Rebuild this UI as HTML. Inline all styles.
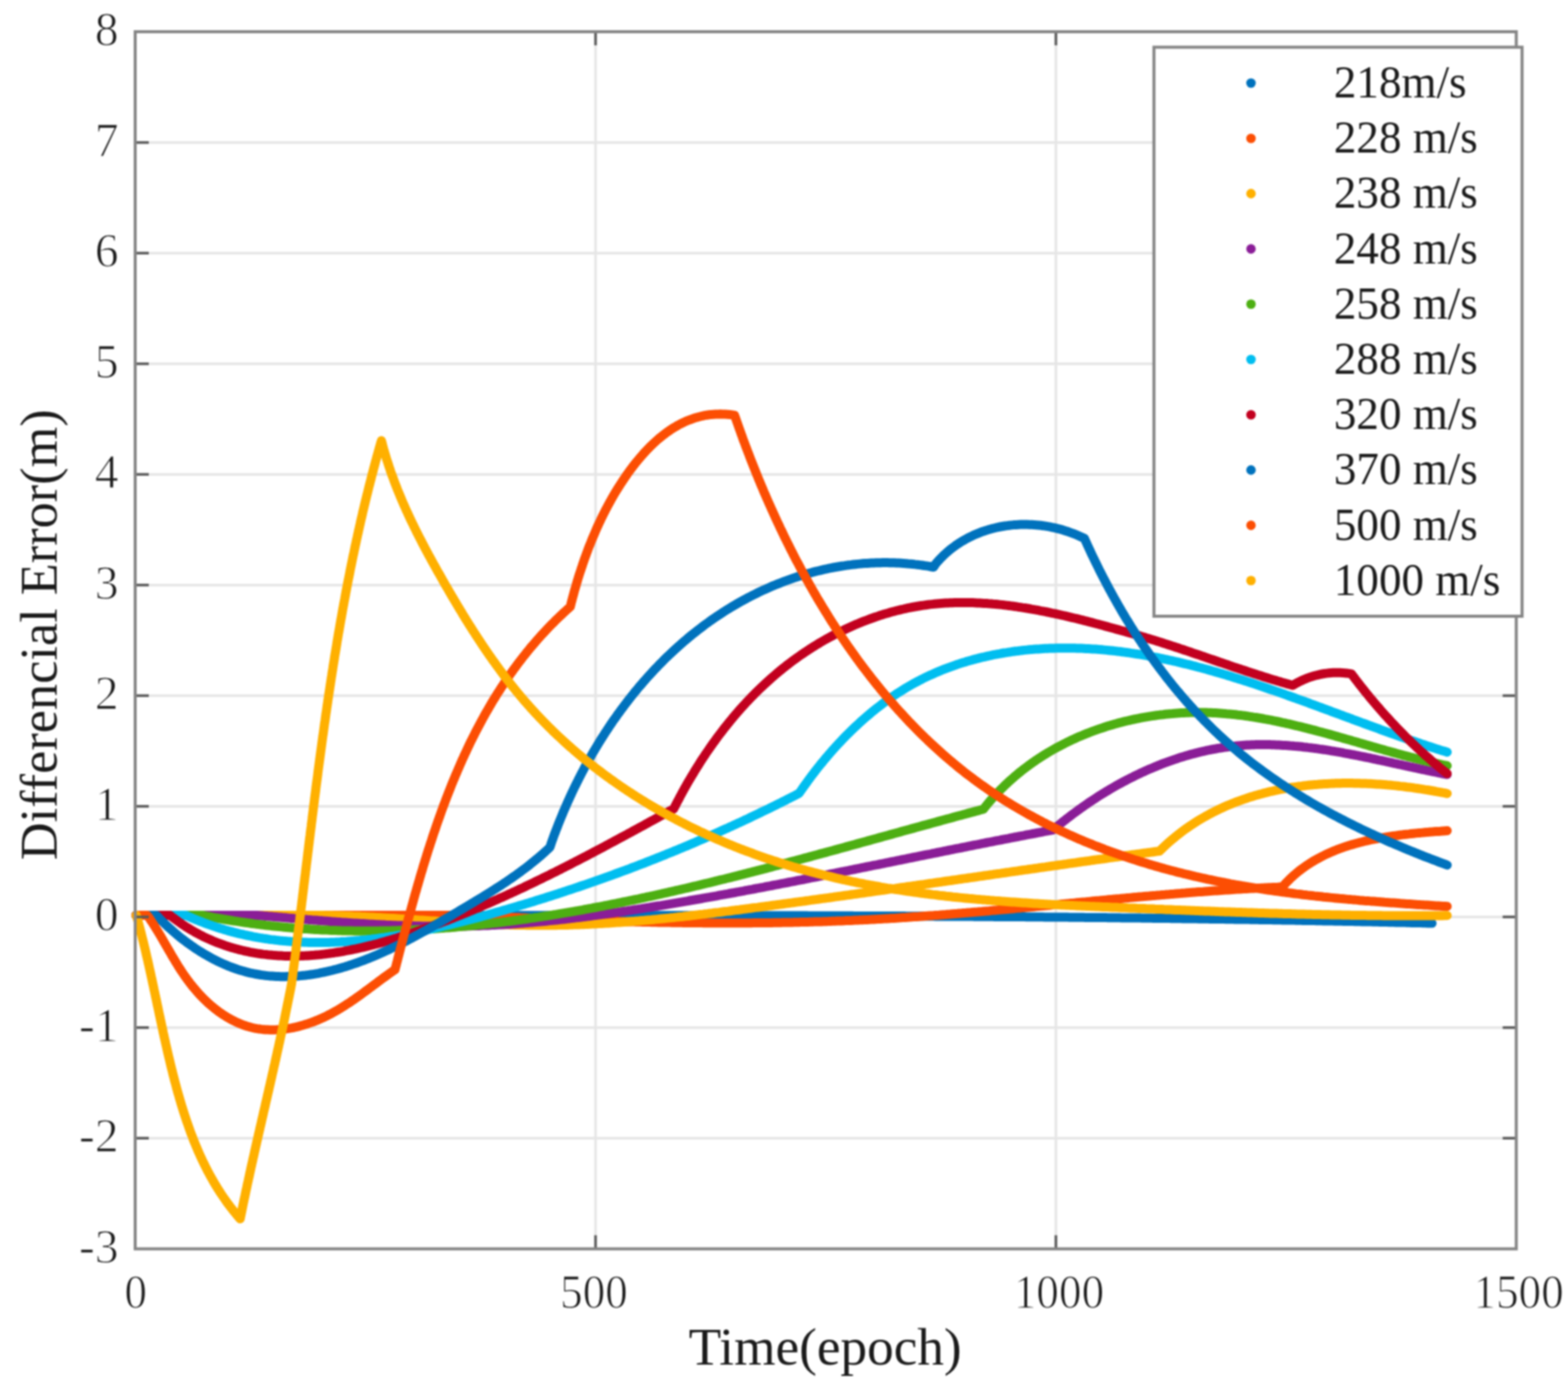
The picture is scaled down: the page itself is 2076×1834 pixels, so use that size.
<!DOCTYPE html>
<html><head><meta charset="utf-8"><title>Differencial Error</title>
<style>
html,body{margin:0;padding:0;background:#fff;}
body{width:2076px;height:1834px;overflow:hidden;}
svg{display:block;filter:blur(0.8px);}
text{font-family:"Liberation Serif","Times New Roman",serif;fill:#1a1a1a;}
.tk{stroke:#fff;stroke-width:1.2px;}
</style></head><body>
<svg xmlns="http://www.w3.org/2000/svg" width="2076" height="1834" viewBox="0 0 2076 1834">
<rect x="0" y="0" width="2076" height="1834" fill="#fff"/>
<g stroke="#e6e6e6" stroke-width="3.5" fill="none"><line x1="179" y1="1507.2" x2="2007.5" y2="1507.2"/><line x1="179" y1="1360.7" x2="2007.5" y2="1360.7"/><line x1="179" y1="1214.2" x2="2007.5" y2="1214.2"/><line x1="179" y1="1067.7" x2="2007.5" y2="1067.7"/><line x1="179" y1="921.2" x2="2007.5" y2="921.2"/><line x1="179" y1="774.7" x2="2007.5" y2="774.7"/><line x1="179" y1="628.2" x2="2007.5" y2="628.2"/><line x1="179" y1="481.7" x2="2007.5" y2="481.7"/><line x1="179" y1="335.2" x2="2007.5" y2="335.2"/><line x1="179" y1="188.7" x2="2007.5" y2="188.7"/><line x1="788.5" y1="42" x2="788.5" y2="1653.7"/><line x1="1398.0" y1="42" x2="1398.0" y2="1653.7"/></g>
<g fill="none" stroke-width="12.0" stroke-linecap="round" stroke-linejoin="round">
<path stroke="#0072BD" d="M180.0,1212.0L183.0,1212.0 186.0,1212.0 189.0,1212.0 192.0,1212.0 195.0,1212.0 198.0,1212.0 201.0,1212.0 204.0,1212.0 207.0,1212.1 210.0,1212.1 213.0,1212.1 216.0,1212.1 219.0,1212.1 222.0,1212.1 225.0,1212.1 228.0,1212.1 231.0,1212.1 234.0,1212.1 237.0,1212.1 240.0,1212.1 243.0,1212.1 246.0,1212.1 249.0,1212.1 252.0,1212.1 255.0,1212.2 258.0,1212.2 261.0,1212.2 264.0,1212.2 267.0,1212.2 270.0,1212.2 273.0,1212.2 276.0,1212.2 279.0,1212.2 282.0,1212.2 285.0,1212.2 288.0,1212.2 291.0,1212.2 294.0,1212.2 297.0,1212.2 300.0,1212.2 303.0,1212.2 306.0,1212.2 309.0,1212.2 312.0,1212.2 315.0,1212.2 318.0,1212.2 321.0,1212.2 324.0,1212.2 327.0,1212.2 330.0,1212.2 333.0,1212.3 336.0,1212.3 339.0,1212.3 342.0,1212.3 345.0,1212.3 348.0,1212.3 351.0,1212.3 354.0,1212.3 357.0,1212.3 360.0,1212.3 363.0,1212.3 366.0,1212.3 369.0,1212.3 372.0,1212.3 375.0,1212.3 378.0,1212.3 381.0,1212.3 384.0,1212.3 387.0,1212.3 390.0,1212.3 393.0,1212.3 396.0,1212.3 399.0,1212.3 402.0,1212.3 405.0,1212.3 408.0,1212.3 411.0,1212.3 414.0,1212.3 417.0,1212.3 420.0,1212.3 423.0,1212.3 426.0,1212.3 429.0,1212.3 432.0,1212.3 435.0,1212.3 438.0,1212.3 441.0,1212.3 444.0,1212.3 447.0,1212.3 450.0,1212.3 453.0,1212.3 456.0,1212.3 459.0,1212.3 462.0,1212.3 465.0,1212.3 468.0,1212.3 471.0,1212.3 474.0,1212.3 477.0,1212.3 480.0,1212.3 483.0,1212.3 486.0,1212.3 489.0,1212.3 492.0,1212.3 495.0,1212.3 498.0,1212.3 501.0,1212.3 504.0,1212.3 507.0,1212.3 510.0,1212.3 513.0,1212.3 516.0,1212.3 519.0,1212.3 522.0,1212.3 525.0,1212.3 528.0,1212.3 531.0,1212.3 534.0,1212.3 537.0,1212.3 540.0,1212.3 543.0,1212.3 546.0,1212.3 549.0,1212.3 552.0,1212.3 555.0,1212.3 558.0,1212.3 561.0,1212.3 564.0,1212.3 567.0,1212.3 570.0,1212.3 573.0,1212.3 576.0,1212.3 579.0,1212.3 582.0,1212.3 585.0,1212.3 588.0,1212.3 591.0,1212.3 594.0,1212.3 597.0,1212.3 600.0,1212.3 603.0,1212.3 606.0,1212.3 609.0,1212.3 612.0,1212.3 615.0,1212.3 618.0,1212.3 621.0,1212.3 624.0,1212.3 627.0,1212.3 630.0,1212.3 633.0,1212.3 636.0,1212.3 639.0,1212.3 642.0,1212.3 645.0,1212.3 648.0,1212.3 651.0,1212.3 654.0,1212.3 657.0,1212.3 660.0,1212.3 663.0,1212.3 666.0,1212.3 669.0,1212.3 672.0,1212.3 675.0,1212.3 678.0,1212.3 681.0,1212.3 684.0,1212.3 687.0,1212.3 690.0,1212.3 693.0,1212.3 696.0,1212.3 699.0,1212.3 702.0,1212.3 705.0,1212.3 708.0,1212.3 711.0,1212.3 714.0,1212.3 717.0,1212.3 720.0,1212.3 723.0,1212.3 726.0,1212.3 729.0,1212.3 732.0,1212.3 735.0,1212.3 738.0,1212.3 741.0,1212.3 744.0,1212.3 747.0,1212.3 750.0,1212.3 753.0,1212.3 756.0,1212.3 759.0,1212.3 762.0,1212.3 765.0,1212.3 768.0,1212.3 771.0,1212.3 774.0,1212.3 777.0,1212.3 780.0,1212.3 783.0,1212.3 786.0,1212.3 789.0,1212.3 792.0,1212.3 795.0,1212.3 798.0,1212.3 801.0,1212.3 804.0,1212.3 807.0,1212.3 810.0,1212.3 813.0,1212.3 816.0,1212.3 819.0,1212.3 822.0,1212.3 825.0,1212.3 828.0,1212.3 831.0,1212.3 834.0,1212.3 837.0,1212.3 840.0,1212.3 843.0,1212.3 846.0,1212.3 849.1,1212.3 852.1,1212.3 855.1,1212.3 858.1,1212.3 861.1,1212.3 864.1,1212.3 867.1,1212.3 870.1,1212.3 873.1,1212.3 876.1,1212.3 879.1,1212.3 882.1,1212.3 885.1,1212.3 888.1,1212.3 891.1,1212.3 894.1,1212.3 897.1,1212.3 900.1,1212.3 903.1,1212.3 906.1,1212.3 909.1,1212.3 912.1,1212.4 915.1,1212.4 918.1,1212.4 921.1,1212.4 924.1,1212.4 927.1,1212.4 930.1,1212.4 933.1,1212.4 936.1,1212.4 939.1,1212.4 942.1,1212.4 945.1,1212.4 948.1,1212.4 951.1,1212.4 954.1,1212.4 957.1,1212.4 960.1,1212.4 963.1,1212.4 966.1,1212.4 969.1,1212.4 972.1,1212.4 975.1,1212.4 978.1,1212.4 981.1,1212.4 984.1,1212.5 987.1,1212.5 990.1,1212.5 993.1,1212.5 996.1,1212.5 999.1,1212.5 1002.1,1212.5 1005.1,1212.5 1008.1,1212.5 1011.1,1212.5 1014.1,1212.5 1017.1,1212.5 1020.1,1212.5 1023.1,1212.5 1026.1,1212.5 1029.1,1212.5 1032.1,1212.6 1035.1,1212.6 1038.1,1212.6 1041.1,1212.6 1044.1,1212.6 1047.1,1212.6 1050.1,1212.6 1053.1,1212.6 1056.1,1212.6 1059.1,1212.6 1062.1,1212.6 1065.1,1212.6 1068.1,1212.6 1071.1,1212.7 1074.1,1212.7 1077.1,1212.7 1080.1,1212.7 1083.1,1212.7 1086.1,1212.7 1089.1,1212.7 1092.1,1212.7 1095.1,1212.7 1098.1,1212.7 1101.1,1212.7 1104.1,1212.8 1107.1,1212.8 1110.1,1212.8 1113.1,1212.8 1116.1,1212.8 1119.1,1212.8 1122.1,1212.8 1125.1,1212.8 1128.1,1212.8 1131.1,1212.9 1134.1,1212.9 1137.1,1212.9 1140.1,1212.9 1143.1,1212.9 1146.1,1212.9 1149.1,1212.9 1152.1,1212.9 1155.1,1212.9 1158.1,1213.0 1161.1,1213.0 1164.1,1213.0 1167.1,1213.0 1170.1,1213.0 1173.1,1213.0 1176.1,1213.0 1179.1,1213.1 1182.1,1213.1 1185.1,1213.1 1188.1,1213.1 1191.1,1213.1 1194.1,1213.1 1197.1,1213.1 1200.1,1213.2 1203.1,1213.2 1206.1,1213.2 1209.1,1213.2 1212.1,1213.2 1215.1,1213.2 1218.1,1213.2 1221.1,1213.3 1224.1,1213.3 1227.1,1213.3 1230.1,1213.3 1233.1,1213.3 1236.1,1213.3 1239.1,1213.4 1242.1,1213.4 1245.1,1213.4 1248.1,1213.4 1251.1,1213.4 1254.1,1213.4 1257.1,1213.5 1260.1,1213.5 1263.1,1213.5 1266.1,1213.5 1269.1,1213.5 1272.1,1213.6 1275.1,1213.6 1278.1,1213.6 1281.1,1213.6 1284.1,1213.6 1287.1,1213.6 1290.1,1213.7 1293.1,1213.7 1296.1,1213.7 1299.1,1213.7 1302.1,1213.7 1305.1,1213.8 1308.1,1213.8 1311.1,1213.8 1314.1,1213.8 1317.1,1213.9 1320.1,1213.9 1323.1,1213.9 1326.1,1213.9 1329.1,1213.9 1332.1,1214.0 1335.1,1214.0 1338.1,1214.0 1341.1,1214.0 1344.1,1214.1 1347.1,1214.1 1350.1,1214.1 1353.1,1214.1 1356.1,1214.1 1359.1,1214.2 1362.1,1214.2 1365.1,1214.2 1368.1,1214.2 1371.1,1214.3 1374.1,1214.3 1377.1,1214.3 1380.1,1214.3 1383.1,1214.4 1386.1,1214.4 1389.1,1214.4 1392.1,1214.4 1395.1,1214.5 1398.1,1214.5 1401.1,1214.5 1404.1,1214.6 1407.1,1214.6 1410.1,1214.6 1413.1,1214.6 1416.1,1214.7 1419.1,1214.7 1422.1,1214.7 1425.1,1214.8 1428.1,1214.8 1431.1,1214.8 1434.1,1214.8 1437.1,1214.9 1440.1,1214.9 1443.1,1214.9 1446.1,1215.0 1449.1,1215.0 1452.1,1215.0 1455.1,1215.1 1458.1,1215.1 1461.1,1215.1 1464.1,1215.1 1467.1,1215.2 1470.1,1215.2 1473.1,1215.2 1476.1,1215.3 1479.1,1215.3 1482.1,1215.3 1485.1,1215.4 1488.1,1215.4 1491.1,1215.4 1494.1,1215.5 1497.1,1215.5 1500.1,1215.5 1503.1,1215.6 1506.1,1215.6 1509.1,1215.6 1512.1,1215.7 1515.1,1215.7 1518.1,1215.8 1521.1,1215.8 1524.1,1215.8 1527.1,1215.9 1530.1,1215.9 1533.1,1215.9 1536.1,1216.0 1539.1,1216.0 1542.1,1216.1 1545.1,1216.1 1548.1,1216.1 1551.1,1216.2 1554.1,1216.2 1557.1,1216.2 1560.1,1216.3 1563.1,1216.3 1566.1,1216.4 1569.1,1216.4 1572.1,1216.4 1575.1,1216.5 1578.1,1216.5 1581.1,1216.6 1584.1,1216.6 1587.1,1216.7 1590.1,1216.7 1593.1,1216.7 1596.1,1216.8 1599.1,1216.8 1602.1,1216.9 1605.1,1216.9 1608.1,1216.9 1611.1,1217.0 1614.1,1217.0 1617.1,1217.1 1620.1,1217.1 1623.1,1217.2 1626.1,1217.2 1629.1,1217.3 1632.1,1217.3 1635.1,1217.4 1638.1,1217.4 1641.1,1217.4 1644.1,1217.5 1647.1,1217.5 1650.1,1217.6 1653.1,1217.6 1656.1,1217.7 1659.1,1217.7 1662.1,1217.8 1665.1,1217.8 1668.1,1217.9 1671.1,1217.9 1674.1,1218.0 1677.1,1218.0 1680.1,1218.1 1683.1,1218.1 1686.1,1218.2 1689.1,1218.2 1692.1,1218.3 1695.1,1218.3 1698.1,1218.4 1701.1,1218.4 1704.1,1218.5 1707.0,1218.5 1710.0,1218.6 1713.0,1218.6 1716.0,1218.7 1719.0,1218.8 1722.0,1218.8 1725.0,1218.9 1728.0,1218.9 1731.0,1219.0 1734.0,1219.0 1737.0,1219.1 1740.0,1219.1 1743.0,1219.2 1746.0,1219.3 1749.0,1219.3 1752.0,1219.4 1755.0,1219.4 1758.0,1219.5 1761.0,1219.5 1764.0,1219.6 1767.0,1219.7 1770.0,1219.7 1773.0,1219.8 1776.0,1219.8 1779.0,1219.9 1782.0,1220.0 1785.0,1220.0 1788.0,1220.1 1791.0,1220.1 1794.0,1220.2 1797.0,1220.3 1800.0,1220.3 1803.0,1220.4 1806.0,1220.5 1809.0,1220.5 1812.0,1220.6 1815.0,1220.6 1818.0,1220.7 1821.0,1220.8 1824.0,1220.8 1827.0,1220.9 1830.0,1221.0 1833.0,1221.0 1836.0,1221.1 1839.0,1221.2 1842.0,1221.2 1845.0,1221.3 1848.0,1221.4 1851.0,1221.4 1854.0,1221.5 1857.0,1221.6 1860.0,1221.6 1863.0,1221.7 1866.0,1221.8 1869.0,1221.9 1872.0,1221.9 1875.0,1222.0 1878.0,1222.1 1881.0,1222.1 1884.0,1222.2 1887.0,1222.3 1890.0,1222.4 1893.0,1222.4 1896.0,1222.5"/>
<path stroke="#FC4E03" d="M180.0,1212.0L620.0,1212.0L623.0,1212.1 626.0,1212.3 629.0,1212.4 632.0,1212.6 635.0,1212.7 638.0,1212.9 641.0,1213.0 644.0,1213.2 647.0,1213.3 649.9,1213.4 652.9,1213.6 655.9,1213.7 658.9,1213.9 661.9,1214.0 664.9,1214.2 667.9,1214.3 670.9,1214.4 673.9,1214.6 676.9,1214.7 679.9,1214.9 682.9,1215.0 685.9,1215.1 688.9,1215.3 691.9,1215.4 694.9,1215.5 697.9,1215.7 700.9,1215.8 703.9,1215.9 706.9,1216.1 709.9,1216.2 712.9,1216.3 715.9,1216.4 718.9,1216.6 721.9,1216.7 724.9,1216.8 727.9,1216.9 730.8,1217.0 733.8,1217.2 736.8,1217.3 739.8,1217.4 742.8,1217.5 745.8,1217.6 748.8,1217.8 751.8,1217.9 754.8,1218.0 757.8,1218.1 760.8,1218.2 763.8,1218.3 766.8,1218.4 769.8,1218.5 772.8,1218.6 775.8,1218.7 778.8,1218.8 781.8,1218.9 784.8,1219.0 787.8,1219.1 790.8,1219.2 793.8,1219.3 796.8,1219.4 799.8,1219.5 802.8,1219.6 805.8,1219.7 808.8,1219.8 811.8,1219.9 814.8,1220.0 817.8,1220.1 820.8,1220.2 823.8,1220.2 826.8,1220.3 829.8,1220.4 832.8,1220.5 835.8,1220.6 838.8,1220.6 841.8,1220.7 844.8,1220.8 847.8,1220.8 850.8,1220.9 853.8,1221.0 856.8,1221.0 859.8,1221.1 862.8,1221.2 865.8,1221.2 868.8,1221.3 871.8,1221.4 874.8,1221.4 877.8,1221.5 880.8,1221.5 883.8,1221.6 886.8,1221.6 889.8,1221.7 892.8,1221.7 895.8,1221.8 898.8,1221.8 901.8,1221.8 904.8,1221.9 907.8,1221.9 910.8,1222.0 913.8,1222.0 916.8,1222.0 919.8,1222.1 922.8,1222.1 925.8,1222.1 928.8,1222.1 931.8,1222.2 934.8,1222.2 937.8,1222.2 940.8,1222.2 943.8,1222.2 946.8,1222.2 949.8,1222.2 952.8,1222.3 955.8,1222.3 958.8,1222.3 961.8,1222.3 964.8,1222.3 967.8,1222.3 970.8,1222.3 973.7,1222.3 976.7,1222.2 979.7,1222.2 982.7,1222.2 985.7,1222.2 988.7,1222.2 991.7,1222.2 994.7,1222.2 997.7,1222.1 1000.7,1222.1 1003.7,1222.1 1006.7,1222.1 1009.7,1222.0 1012.7,1222.0 1015.7,1221.9 1018.7,1221.9 1021.7,1221.9 1024.7,1221.8 1027.7,1221.8 1030.7,1221.7 1033.7,1221.7 1036.7,1221.6 1039.7,1221.6 1042.7,1221.5 1045.7,1221.5 1048.7,1221.4 1051.7,1221.3 1054.7,1221.3 1057.7,1221.2 1060.7,1221.1 1063.7,1221.0 1066.7,1221.0 1069.7,1220.9 1072.7,1220.8 1075.7,1220.7 1078.7,1220.6 1081.7,1220.5 1084.7,1220.4 1087.7,1220.4 1090.7,1220.3 1093.7,1220.2 1096.7,1220.1 1099.7,1219.9 1102.6,1219.8 1105.6,1219.7 1108.6,1219.6 1111.6,1219.5 1114.6,1219.4 1117.6,1219.3 1120.6,1219.1 1123.6,1219.0 1126.6,1218.9 1129.6,1218.7 1132.6,1218.6 1135.6,1218.5 1138.6,1218.3 1141.6,1218.2 1144.6,1218.0 1147.6,1217.9 1150.6,1217.7 1153.6,1217.6 1156.6,1217.4 1159.6,1217.2 1162.5,1217.1 1165.5,1216.9 1168.5,1216.7 1171.5,1216.6 1174.5,1216.4 1177.5,1216.2 1180.5,1216.0 1183.5,1215.9 1186.5,1215.7 1189.5,1215.5 1192.5,1215.3 1195.5,1215.1 1198.5,1214.9 1201.5,1214.7 1204.5,1214.5 1207.4,1214.3 1210.4,1214.1 1213.4,1213.9 1216.4,1213.7 1219.4,1213.4 1222.4,1213.2 1225.4,1213.0 1228.4,1212.8 1231.4,1212.6 1234.4,1212.4 1237.4,1212.1 1240.4,1211.9 1243.4,1211.7 1246.3,1211.4 1249.3,1211.2 1252.3,1211.0 1255.3,1210.7 1258.3,1210.5 1261.3,1210.2 1264.3,1210.0 1267.3,1209.8 1270.3,1209.5 1273.3,1209.3 1276.3,1209.0 1279.2,1208.8 1282.2,1208.5 1285.2,1208.3 1288.2,1208.0 1291.2,1207.7 1294.2,1207.5 1297.2,1207.2 1300.2,1207.0 1303.2,1206.7 1306.2,1206.4 1309.2,1206.2 1312.1,1205.9 1315.1,1205.6 1318.1,1205.4 1321.1,1205.1 1324.1,1204.8 1327.1,1204.6 1330.1,1204.3 1333.1,1204.0 1336.1,1203.7 1339.1,1203.5 1342.0,1203.2 1345.0,1202.9 1348.0,1202.6 1351.0,1202.4 1354.0,1202.1 1357.0,1201.8 1360.0,1201.5 1363.0,1201.3 1366.0,1201.0 1368.9,1200.7 1371.9,1200.4 1374.9,1200.1 1377.9,1199.8 1380.9,1199.6 1383.9,1199.3 1386.9,1199.0 1389.9,1198.7 1392.9,1198.4 1395.8,1198.1 1398.8,1197.9 1401.8,1197.6 1404.8,1197.3 1407.8,1197.0 1410.8,1196.7 1413.8,1196.4 1416.8,1196.1 1419.8,1195.9 1422.7,1195.6 1425.7,1195.3 1428.7,1195.0 1431.7,1194.7 1434.7,1194.4 1437.7,1194.2 1440.7,1193.9 1443.7,1193.6 1446.7,1193.3 1449.6,1193.0 1452.6,1192.7 1455.6,1192.5 1458.6,1192.2 1461.6,1191.9 1464.6,1191.6 1467.6,1191.3 1470.6,1191.1 1473.6,1190.8 1476.5,1190.5 1479.5,1190.2 1482.5,1190.0 1485.5,1189.7 1488.5,1189.4 1491.5,1189.1 1494.5,1188.9 1497.5,1188.6 1500.5,1188.3 1503.4,1188.1 1506.4,1187.8 1509.4,1187.5 1512.4,1187.3 1515.4,1187.0 1518.4,1186.7 1521.4,1186.5 1524.4,1186.2 1527.4,1185.9 1530.3,1185.7 1533.3,1185.4 1536.3,1185.2 1539.3,1184.9 1542.3,1184.7 1545.3,1184.4 1548.3,1184.2 1551.3,1183.9 1554.3,1183.7 1557.2,1183.4 1560.2,1183.2 1563.2,1183.0 1566.2,1182.7 1569.2,1182.5 1572.2,1182.2 1575.2,1182.0 1578.2,1181.8 1581.2,1181.6 1584.1,1181.3 1587.1,1181.1 1590.1,1180.9 1593.1,1180.7 1596.1,1180.4 1599.1,1180.2 1602.1,1180.0 1605.1,1179.8 1608.1,1179.6 1611.1,1179.4 1614.0,1179.2 1617.0,1179.0 1620.0,1178.8 1623.0,1178.6 1626.0,1178.4 1629.0,1178.2 1632.0,1178.0 1635.0,1177.8 1638.0,1177.6 1641.0,1177.4 1644.0,1177.2 1646.9,1177.1 1649.9,1176.9 1652.9,1176.7 1655.9,1176.6 1658.9,1176.4 1661.9,1176.2 1664.9,1176.1 1667.9,1175.9 1670.9,1175.7 1673.9,1175.6 1676.9,1175.4 1679.8,1175.3 1682.8,1175.2 1685.8,1175.0 1688.8,1174.9 1691.8,1174.8 1694.8,1174.6 1697.8,1174.5L1699.9,1172.2 1702.0,1169.9 1704.1,1167.7 1706.3,1165.5 1708.4,1163.3 1710.7,1161.3 1712.9,1159.2 1715.2,1157.3 1717.5,1155.3 1719.8,1153.4 1722.2,1151.6 1724.6,1149.8 1727.0,1148.1 1729.4,1146.4 1731.9,1144.7 1734.4,1143.1 1736.9,1141.5 1739.4,1140.0 1742.0,1138.5 1744.6,1137.1 1747.2,1135.7 1749.8,1134.3 1752.4,1133.0 1755.1,1131.7 1757.7,1130.4 1760.4,1129.2 1763.2,1128.0 1765.9,1126.9 1768.6,1125.8 1771.4,1124.7 1774.2,1123.7 1777.0,1122.7 1779.8,1121.7 1782.6,1120.7 1785.5,1119.8 1788.3,1118.9 1791.2,1118.1 1794.1,1117.3 1797.0,1116.5 1799.9,1115.7 1802.8,1115.0 1805.7,1114.2 1808.6,1113.5 1811.6,1112.9 1814.5,1112.2 1817.5,1111.6 1820.5,1111.0 1823.4,1110.5 1826.4,1109.9 1829.4,1109.4 1832.4,1108.9 1835.4,1108.4 1838.4,1107.9 1841.4,1107.4 1844.4,1107.0 1847.4,1106.6 1850.4,1106.2 1853.4,1105.8 1856.4,1105.4 1859.4,1105.0 1862.4,1104.7 1865.5,1104.4 1868.5,1104.0 1871.5,1103.7 1874.5,1103.4 1877.5,1103.1 1880.5,1102.9 1883.5,1102.6 1886.5,1102.3 1889.4,1102.1 1892.4,1101.8 1895.4,1101.6 1898.4,1101.3 1901.3,1101.1 1904.3,1100.9 1907.2,1100.7 1910.2,1100.4 1913.1,1100.2 1916.0,1100.0"/>
<path stroke="#FFB000" d="M180.0,1212.0L400.0,1212.0L403.0,1212.0 406.0,1212.0 409.0,1212.0 412.0,1212.0 415.0,1212.0 418.0,1212.0 421.0,1212.0 424.0,1212.1 427.1,1212.1 430.1,1212.2 433.1,1212.2 436.1,1212.3 439.1,1212.3 442.1,1212.4 445.1,1212.5 448.1,1212.6 451.1,1212.7 454.1,1212.8 457.1,1212.9 460.1,1213.0 463.1,1213.1 466.1,1213.2 469.1,1213.4 472.1,1213.5 475.1,1213.6 478.1,1213.8 481.1,1213.9 484.2,1214.1 487.2,1214.2 490.2,1214.4 493.2,1214.5 496.2,1214.7 499.2,1214.9 502.2,1215.0 505.2,1215.2 508.2,1215.4 511.2,1215.6 514.2,1215.7 517.2,1215.9 520.2,1216.1 523.2,1216.3 526.2,1216.5 529.2,1216.7 532.2,1216.9 535.2,1217.0 538.2,1217.2 541.2,1217.4 544.2,1217.6 547.2,1217.8 550.2,1218.0 553.3,1218.2 556.3,1218.4 559.3,1218.6 562.3,1218.8 565.3,1219.0 568.3,1219.2 571.3,1219.4 574.3,1219.6 577.3,1219.8 580.3,1220.0 583.3,1220.1 586.3,1220.3 589.3,1220.5 592.3,1220.7 595.3,1220.9 598.3,1221.1 601.3,1221.2 604.3,1221.4 607.3,1221.6 610.3,1221.8 613.3,1221.9 616.3,1222.1 619.3,1222.3 622.3,1222.4 625.3,1222.6 628.3,1222.7 631.3,1222.9 634.3,1223.0 637.3,1223.2 640.3,1223.3 643.3,1223.5 646.3,1223.6 649.3,1223.7 652.3,1223.9 655.3,1224.0 658.3,1224.1 661.3,1224.2 664.3,1224.3 667.3,1224.4 670.3,1224.5 673.3,1224.6 676.3,1224.7 679.3,1224.8 682.3,1224.9 685.3,1224.9 688.3,1225.0 691.3,1225.1 694.3,1225.1 697.3,1225.2 700.3,1225.2 703.3,1225.2 706.3,1225.3 709.3,1225.3 712.3,1225.3 715.3,1225.3 718.3,1225.3 721.3,1225.3 724.3,1225.3 727.3,1225.3 730.3,1225.3 733.3,1225.2 736.3,1225.2 739.3,1225.1 742.3,1225.1 745.3,1225.0 748.3,1225.0 751.3,1224.9 754.3,1224.8 757.3,1224.7 760.3,1224.6 763.3,1224.5 766.3,1224.4 769.3,1224.3 772.3,1224.2 775.3,1224.0 778.3,1223.9 781.3,1223.8 784.3,1223.6 787.3,1223.5 790.3,1223.3 793.3,1223.1 796.3,1223.0 799.3,1222.8 802.2,1222.6 805.2,1222.4 808.2,1222.2 811.2,1222.1 814.2,1221.8 817.2,1221.6 820.2,1221.4 823.2,1221.2 826.2,1221.0 829.2,1220.8 832.2,1220.5 835.2,1220.3 838.2,1220.1 841.2,1219.8 844.2,1219.6 847.2,1219.3 850.1,1219.0 853.1,1218.8 856.1,1218.5 859.1,1218.2 862.1,1218.0 865.1,1217.7 868.1,1217.4 871.1,1217.1 874.1,1216.8 877.1,1216.5 880.1,1216.2 883.1,1215.9 886.0,1215.6 889.0,1215.3 892.0,1215.0 895.0,1214.6 898.0,1214.3 901.0,1214.0 904.0,1213.7 907.0,1213.3 910.0,1213.0 913.0,1212.7 916.0,1212.3 918.9,1212.0 921.9,1211.6 924.9,1211.3 927.9,1210.9 930.9,1210.6 933.9,1210.2 936.9,1209.9 939.9,1209.5 942.9,1209.2 945.8,1208.8 948.8,1208.4 951.8,1208.1 954.8,1207.7 957.8,1207.3 960.8,1206.9 963.8,1206.6 966.8,1206.2 969.7,1205.8 972.7,1205.4 975.7,1205.0 978.7,1204.7 981.7,1204.3 984.7,1203.9 987.7,1203.5 990.6,1203.1 993.6,1202.7 996.6,1202.3 999.6,1201.9 1002.6,1201.6 1005.6,1201.2 1008.6,1200.8 1011.5,1200.4 1014.5,1200.0 1017.5,1199.6 1020.5,1199.2 1023.5,1198.8 1026.5,1198.4 1029.5,1198.0 1032.4,1197.6 1035.4,1197.2 1038.4,1196.8 1041.4,1196.4 1044.4,1196.0 1047.4,1195.6 1050.3,1195.2 1053.3,1194.8 1056.3,1194.4 1059.3,1194.0 1062.3,1193.6 1065.3,1193.2 1068.2,1192.8 1071.2,1192.4 1074.2,1191.9 1077.2,1191.5 1080.2,1191.1 1083.2,1190.7 1086.1,1190.3 1089.1,1189.9 1092.1,1189.5 1095.1,1189.1 1098.1,1188.7 1101.0,1188.3 1104.0,1187.8 1107.0,1187.4 1110.0,1187.0 1113.0,1186.6 1115.9,1186.2 1118.9,1185.8 1121.9,1185.4 1124.9,1185.0 1127.9,1184.5 1130.8,1184.1 1133.8,1183.7 1136.8,1183.3 1139.8,1182.9 1142.8,1182.5 1145.7,1182.0 1148.7,1181.6 1151.7,1181.2 1154.7,1180.8 1157.7,1180.4 1160.6,1179.9 1163.6,1179.5 1166.6,1179.1 1169.6,1178.7 1172.6,1178.3 1175.5,1177.8 1178.5,1177.4 1181.5,1177.0 1184.5,1176.6 1187.5,1176.1 1190.4,1175.7 1193.4,1175.3 1196.4,1174.9 1199.4,1174.5 1202.3,1174.0 1205.3,1173.6 1208.3,1173.2 1211.3,1172.8 1214.2,1172.3 1217.2,1171.9 1220.2,1171.5 1223.2,1171.1 1226.2,1170.6 1229.1,1170.2 1232.1,1169.8 1235.1,1169.4 1238.1,1168.9 1241.0,1168.5 1244.0,1168.1 1247.0,1167.7 1250.0,1167.2 1252.9,1166.8 1255.9,1166.4 1258.9,1166.0 1261.9,1165.5 1264.8,1165.1 1267.8,1164.7 1270.8,1164.2 1273.8,1163.8 1276.7,1163.4 1279.7,1163.0 1282.7,1162.5 1285.7,1162.1 1288.6,1161.7 1291.6,1161.3 1294.6,1160.8 1297.6,1160.4 1300.5,1160.0 1303.5,1159.5 1306.5,1159.1 1309.5,1158.7 1312.4,1158.3 1315.4,1157.8 1318.4,1157.4 1321.3,1157.0 1324.3,1156.6 1327.3,1156.1 1330.3,1155.7 1333.2,1155.3 1336.2,1154.9 1339.2,1154.4 1342.2,1154.0 1345.1,1153.6 1348.1,1153.2 1351.1,1152.7 1354.0,1152.3 1357.0,1151.9 1360.0,1151.5 1363.0,1151.0 1365.9,1150.6 1368.9,1150.2 1371.9,1149.8 1374.9,1149.3 1377.8,1148.9 1380.8,1148.5 1383.8,1148.1 1386.7,1147.6 1389.7,1147.2 1392.7,1146.8 1395.6,1146.4 1398.6,1146.0 1401.6,1145.5 1404.6,1145.1 1407.5,1144.7 1410.5,1144.3 1413.5,1143.8 1416.4,1143.4 1419.4,1143.0 1422.4,1142.6 1425.4,1142.2 1428.3,1141.7 1431.3,1141.3 1434.3,1140.9 1437.2,1140.5 1440.2,1140.1 1443.2,1139.7 1446.1,1139.2 1449.1,1138.8 1452.1,1138.4 1455.1,1138.0 1458.0,1137.6 1461.0,1137.2 1464.0,1136.8 1466.9,1136.3 1469.9,1135.9 1472.9,1135.5 1475.8,1135.1 1478.8,1134.7 1481.8,1134.3 1484.7,1133.9 1487.7,1133.5 1490.7,1133.0 1493.6,1132.6 1496.6,1132.2 1499.6,1131.8 1502.6,1131.4 1505.5,1131.0 1508.5,1130.6 1511.5,1130.2 1514.4,1129.8 1517.4,1129.4 1520.4,1129.0 1523.3,1128.6 1526.3,1128.2 1529.3,1127.8 1532.2,1127.4 1535.2,1127.0L1537.4,1124.8 1539.7,1122.6 1541.9,1120.5 1544.2,1118.4 1546.5,1116.3 1548.8,1114.3 1551.2,1112.2 1553.5,1110.3 1555.9,1108.3 1558.3,1106.4 1560.7,1104.5 1563.1,1102.6 1565.5,1100.8 1567.9,1099.0 1570.4,1097.2 1572.9,1095.5 1575.4,1093.8 1577.9,1092.1 1580.4,1090.5 1582.9,1088.8 1585.5,1087.2 1588.0,1085.7 1590.6,1084.1 1593.2,1082.6 1595.8,1081.1 1598.4,1079.7 1601.0,1078.3 1603.6,1076.9 1606.3,1075.5 1609.0,1074.1 1611.6,1072.8 1614.3,1071.5 1617.0,1070.3 1619.7,1069.0 1622.4,1067.8 1625.2,1066.6 1627.9,1065.5 1630.7,1064.4 1633.4,1063.3 1636.2,1062.2 1639.0,1061.1 1641.8,1060.1 1644.6,1059.1 1647.4,1058.1 1650.2,1057.2 1653.1,1056.2 1655.9,1055.3 1658.8,1054.4 1661.6,1053.6 1664.5,1052.8 1667.4,1051.9 1670.2,1051.2 1673.1,1050.4 1676.0,1049.7 1678.9,1048.9 1681.9,1048.2 1684.8,1047.6 1687.7,1046.9 1690.6,1046.3 1693.6,1045.7 1696.5,1045.1 1699.5,1044.6 1702.4,1044.0 1705.4,1043.5 1708.4,1043.0 1711.4,1042.5 1714.3,1042.1 1717.3,1041.7 1720.3,1041.2 1723.3,1040.9 1726.3,1040.5 1729.3,1040.1 1732.3,1039.8 1735.3,1039.5 1738.4,1039.2 1741.4,1038.9 1744.4,1038.7 1747.4,1038.4 1750.5,1038.2 1753.5,1038.0 1756.5,1037.9 1759.6,1037.7 1762.6,1037.6 1765.6,1037.4 1768.7,1037.3 1771.7,1037.3 1774.8,1037.2 1777.8,1037.1 1780.9,1037.1 1783.9,1037.1 1787.0,1037.1 1790.0,1037.1 1793.1,1037.2 1796.1,1037.2 1799.2,1037.3 1802.2,1037.4 1805.3,1037.5 1808.3,1037.6 1811.4,1037.7 1814.4,1037.8 1817.5,1038.0 1820.5,1038.2 1823.5,1038.4 1826.6,1038.6 1829.6,1038.8 1832.7,1039.0 1835.7,1039.3 1838.7,1039.6 1841.8,1039.8 1844.8,1040.1 1847.8,1040.4 1850.8,1040.7 1853.8,1041.1 1856.8,1041.4 1859.9,1041.8 1862.9,1042.2 1865.9,1042.5 1868.9,1042.9 1871.8,1043.3 1874.8,1043.8 1877.8,1044.2 1880.8,1044.6 1883.8,1045.1 1886.7,1045.6 1889.7,1046.0 1892.6,1046.5 1895.6,1047.0 1898.5,1047.5 1901.4,1048.1 1904.4,1048.6 1907.3,1049.1 1910.2,1049.7 1913.1,1050.2 1916.0,1050.8"/>
<path stroke="#8A1D97" d="M180.0,1212.0L340.0,1212.0L343.0,1212.2 346.0,1212.5 349.0,1212.8 351.9,1213.0 354.9,1213.3 357.9,1213.5 360.9,1213.8 363.9,1214.1 366.9,1214.3 369.9,1214.6 372.9,1214.8 375.9,1215.1 378.9,1215.3 381.9,1215.6 384.8,1215.9 387.8,1216.1 390.8,1216.4 393.8,1216.6 396.8,1216.9 399.8,1217.1 402.8,1217.4 405.8,1217.6 408.8,1217.9 411.8,1218.1 414.8,1218.4 417.8,1218.6 420.8,1218.8 423.8,1219.1 426.8,1219.3 429.8,1219.6 432.8,1219.8 435.8,1220.0 438.8,1220.3 441.8,1220.5 444.8,1220.7 447.8,1220.9 450.8,1221.1 453.8,1221.4 456.8,1221.6 459.8,1221.8 462.8,1222.0 465.8,1222.2 468.8,1222.4 471.8,1222.6 474.8,1222.8 477.8,1223.0 480.8,1223.1 483.8,1223.3 486.9,1223.5 489.9,1223.7 492.9,1223.8 495.9,1224.0 498.9,1224.2 501.9,1224.3 504.9,1224.5 507.9,1224.6 510.9,1224.8 513.9,1224.9 516.9,1225.0 519.9,1225.2 522.9,1225.3 525.9,1225.4 528.9,1225.5 531.9,1225.6 534.9,1225.7 537.9,1225.8 540.9,1225.9 543.9,1226.0 546.9,1226.1 549.9,1226.2 552.9,1226.3 555.9,1226.3 558.9,1226.4 561.9,1226.4 564.9,1226.5 567.9,1226.5 570.9,1226.6 573.9,1226.6 576.9,1226.6 579.9,1226.6 582.9,1226.7 585.9,1226.7 588.9,1226.7 591.9,1226.7 594.9,1226.6 597.9,1226.6 600.9,1226.6 603.9,1226.6 606.9,1226.5 609.9,1226.5 612.9,1226.4 615.9,1226.4 618.9,1226.3 621.9,1226.2 624.9,1226.1 627.9,1226.1 630.9,1226.0 633.9,1225.9 636.9,1225.7 639.9,1225.6 642.8,1225.5 645.8,1225.4 648.8,1225.2 651.8,1225.1 654.8,1224.9 657.8,1224.8 660.8,1224.6 663.8,1224.4 666.8,1224.3 669.7,1224.1 672.7,1223.9 675.7,1223.7 678.7,1223.5 681.7,1223.3 684.7,1223.1 687.7,1222.8 690.6,1222.6 693.6,1222.4 696.6,1222.1 699.6,1221.9 702.6,1221.6 705.6,1221.4 708.5,1221.1 711.5,1220.8 714.5,1220.6 717.5,1220.3 720.5,1220.0 723.4,1219.7 726.4,1219.4 729.4,1219.1 732.4,1218.8 735.4,1218.5 738.3,1218.2 741.3,1217.8 744.3,1217.5 747.3,1217.2 750.2,1216.8 753.2,1216.5 756.2,1216.1 759.2,1215.8 762.1,1215.4 765.1,1215.1 768.1,1214.7 771.1,1214.3 774.0,1214.0 777.0,1213.6 780.0,1213.2 783.0,1212.8 785.9,1212.4 788.9,1212.0 791.9,1211.6 794.8,1211.2 797.8,1210.8 800.8,1210.4 803.8,1210.0 806.7,1209.6 809.7,1209.1 812.7,1208.7 815.6,1208.3 818.6,1207.9 821.6,1207.4 824.5,1207.0 827.5,1206.5 830.5,1206.1 833.4,1205.6 836.4,1205.2 839.4,1204.7 842.3,1204.3 845.3,1203.8 848.3,1203.4 851.2,1202.9 854.2,1202.4 857.2,1201.9 860.1,1201.5 863.1,1201.0 866.0,1200.5 869.0,1200.0 872.0,1199.5 874.9,1199.1 877.9,1198.6 880.9,1198.1 883.8,1197.6 886.8,1197.1 889.7,1196.6 892.7,1196.1 895.7,1195.6 898.6,1195.1 901.6,1194.6 904.5,1194.1 907.5,1193.6 910.5,1193.1 913.4,1192.5 916.4,1192.0 919.3,1191.5 922.3,1191.0 925.3,1190.5 928.2,1190.0 931.2,1189.4 934.1,1188.9 937.1,1188.4 940.0,1187.9 943.0,1187.3 946.0,1186.8 948.9,1186.3 951.9,1185.7 954.8,1185.2 957.8,1184.7 960.7,1184.1 963.7,1183.6 966.6,1183.0 969.6,1182.5 972.6,1182.0 975.5,1181.4 978.5,1180.9 981.4,1180.3 984.4,1179.8 987.3,1179.2 990.3,1178.7 993.2,1178.1 996.2,1177.6 999.1,1177.0 1002.1,1176.4 1005.0,1175.9 1008.0,1175.3 1010.9,1174.8 1013.9,1174.2 1016.8,1173.6 1019.8,1173.1 1022.7,1172.5 1025.7,1171.9 1028.6,1171.4 1031.6,1170.8 1034.6,1170.2 1037.5,1169.7 1040.5,1169.1 1043.4,1168.5 1046.4,1167.9 1049.3,1167.4 1052.3,1166.8 1055.2,1166.2 1058.1,1165.6 1061.1,1165.1 1064.0,1164.5 1067.0,1163.9 1069.9,1163.3 1072.9,1162.7 1075.8,1162.2 1078.8,1161.6 1081.7,1161.0 1084.7,1160.4 1087.6,1159.8 1090.6,1159.2 1093.5,1158.7 1096.5,1158.1 1099.4,1157.5 1102.4,1156.9 1105.3,1156.3 1108.3,1155.7 1111.2,1155.1 1114.2,1154.5 1117.1,1154.0 1120.1,1153.4 1123.0,1152.8 1126.0,1152.2 1128.9,1151.6 1131.8,1151.0 1134.8,1150.4 1137.7,1149.8 1140.7,1149.2 1143.6,1148.6 1146.6,1148.0 1149.5,1147.4 1152.5,1146.8 1155.4,1146.2 1158.4,1145.6 1161.3,1145.1 1164.3,1144.5 1167.2,1143.9 1170.1,1143.3 1173.1,1142.7 1176.0,1142.1 1179.0,1141.5 1181.9,1140.9 1184.9,1140.3 1187.8,1139.7 1190.8,1139.1 1193.7,1138.5 1196.7,1137.9 1199.6,1137.3 1202.5,1136.7 1205.5,1136.1 1208.4,1135.5 1211.4,1134.9 1214.3,1134.3 1217.3,1133.7 1220.2,1133.1 1223.2,1132.5 1226.1,1131.9 1229.0,1131.3 1232.0,1130.8 1234.9,1130.2 1237.9,1129.6 1240.8,1129.0 1243.8,1128.4 1246.7,1127.8 1249.7,1127.2 1252.6,1126.6 1255.6,1126.0 1258.5,1125.4 1261.4,1124.8 1264.4,1124.2 1267.3,1123.6 1270.3,1123.1 1273.2,1122.5 1276.2,1121.9 1279.1,1121.3 1282.1,1120.7 1285.0,1120.1 1287.9,1119.5 1290.9,1118.9 1293.8,1118.4 1296.8,1117.8 1299.7,1117.2 1302.7,1116.6 1305.6,1116.0 1308.6,1115.4 1311.5,1114.9 1314.5,1114.3 1317.4,1113.7 1320.3,1113.1 1323.3,1112.6 1326.2,1112.0 1329.2,1111.4 1332.1,1110.8 1335.1,1110.3 1338.0,1109.7 1341.0,1109.1 1343.9,1108.5 1346.9,1108.0 1349.8,1107.4 1352.7,1106.8 1355.7,1106.3 1358.6,1105.7 1361.6,1105.1 1364.5,1104.6 1367.5,1104.0 1370.4,1103.5 1373.4,1102.9 1376.3,1102.3 1379.3,1101.8 1382.2,1101.2 1385.2,1100.7 1388.1,1100.1 1391.1,1099.6 1394.0,1099.0L1396.3,1097.1 1398.6,1095.1 1401.0,1093.2 1403.3,1091.3 1405.7,1089.4 1408.0,1087.5 1410.4,1085.7 1412.8,1083.8 1415.2,1082.0 1417.6,1080.1 1420.0,1078.3 1422.5,1076.5 1424.9,1074.7 1427.4,1072.9 1429.8,1071.1 1432.3,1069.4 1434.8,1067.6 1437.3,1065.9 1439.8,1064.2 1442.3,1062.4 1444.8,1060.8 1447.3,1059.1 1449.9,1057.4 1452.4,1055.8 1455.0,1054.1 1457.5,1052.5 1460.1,1050.9 1462.7,1049.3 1465.3,1047.7 1467.9,1046.2 1470.5,1044.6 1473.1,1043.1 1475.7,1041.6 1478.4,1040.1 1481.0,1038.6 1483.7,1037.2 1486.3,1035.7 1489.0,1034.3 1491.7,1032.9 1494.4,1031.5 1497.1,1030.1 1499.8,1028.8 1502.5,1027.4 1505.2,1026.1 1507.9,1024.8 1510.6,1023.5 1513.4,1022.3 1516.1,1021.0 1518.9,1019.8 1521.6,1018.6 1524.4,1017.4 1527.2,1016.2 1529.9,1015.1 1532.7,1013.9 1535.5,1012.8 1538.3,1011.7 1541.1,1010.6 1543.9,1009.6 1546.7,1008.6 1549.5,1007.6 1552.4,1006.6 1555.2,1005.6 1558.0,1004.7 1560.9,1003.7 1563.7,1002.8 1566.6,1001.9 1569.4,1001.1 1572.3,1000.2 1575.2,999.4 1578.0,998.6 1580.9,997.9 1583.8,997.1 1586.7,996.4 1589.6,995.7 1592.5,995.0 1595.4,994.4 1598.3,993.7 1601.2,993.1 1604.1,992.5 1607.0,992.0 1609.9,991.5 1612.9,990.9 1615.8,990.5 1618.7,990.0 1621.7,989.6 1624.6,989.2 1627.6,988.8 1630.5,988.4 1633.5,988.1 1636.4,987.8 1639.4,987.5 1642.3,987.2 1645.3,987.0 1648.2,986.8 1651.2,986.6 1654.2,986.5 1657.1,986.3 1660.1,986.2 1663.1,986.1 1666.1,986.1 1669.1,986.1 1672.0,986.0 1675.0,986.0 1678.0,986.1 1681.0,986.1 1684.0,986.2 1687.0,986.3 1690.0,986.4 1693.0,986.5 1696.0,986.7 1699.0,986.9 1702.0,987.0 1705.0,987.2 1708.0,987.5 1711.0,987.7 1714.0,988.0 1717.0,988.2 1720.0,988.5 1723.0,988.8 1726.0,989.2 1729.0,989.5 1732.0,989.9 1735.0,990.2 1738.0,990.6 1741.0,991.0 1744.0,991.4 1747.0,991.9 1750.0,992.3 1753.1,992.7 1756.1,993.2 1759.1,993.7 1762.1,994.2 1765.1,994.6 1768.1,995.2 1771.1,995.7 1774.1,996.2 1777.1,996.7 1780.1,997.3 1783.1,997.8 1786.1,998.4 1789.1,999.0 1792.1,999.5 1795.1,1000.1 1798.1,1000.7 1801.1,1001.3 1804.1,1001.9 1807.1,1002.5 1810.1,1003.1 1813.1,1003.7 1816.1,1004.4 1819.0,1005.0 1822.0,1005.6 1825.0,1006.3 1828.0,1006.9 1831.0,1007.5 1833.9,1008.2 1836.9,1008.8 1839.9,1009.5 1842.9,1010.1 1845.8,1010.8 1848.8,1011.4 1851.7,1012.1 1854.7,1012.7 1857.6,1013.3 1860.6,1014.0 1863.5,1014.6 1866.5,1015.3 1869.4,1015.9 1872.4,1016.6 1875.3,1017.2 1878.2,1017.8 1881.2,1018.5 1884.1,1019.1 1887.0,1019.7 1889.9,1020.3 1892.8,1020.9 1895.8,1021.5 1898.7,1022.1 1901.6,1022.7 1904.5,1023.3 1907.3,1023.9 1910.2,1024.5 1913.1,1025.0 1916.0,1025.6"/>
<path stroke="#4DAF12" d="M180.0,1212.0L268.0,1212.0L271.0,1212.6 274.0,1213.2 277.0,1213.7 280.0,1214.3 283.0,1214.9 286.0,1215.4 289.0,1216.0 292.0,1216.5 295.0,1217.0 297.9,1217.5 300.9,1218.0 303.9,1218.5 306.9,1219.0 309.9,1219.5 312.9,1219.9 315.9,1220.4 318.9,1220.8 321.9,1221.3 324.9,1221.7 327.9,1222.1 330.9,1222.5 333.9,1223.0 336.9,1223.4 339.9,1223.7 342.9,1224.1 345.9,1224.5 348.8,1224.8 351.8,1225.2 354.8,1225.5 357.8,1225.9 360.8,1226.2 363.8,1226.5 366.8,1226.8 369.8,1227.1 372.8,1227.4 375.8,1227.7 378.8,1228.0 381.8,1228.3 384.8,1228.5 387.7,1228.8 390.7,1229.0 393.7,1229.3 396.7,1229.5 399.7,1229.7 402.7,1229.9 405.7,1230.1 408.7,1230.3 411.7,1230.5 414.7,1230.7 417.6,1230.9 420.6,1231.0 423.6,1231.2 426.6,1231.4 429.6,1231.5 432.6,1231.6 435.6,1231.8 438.6,1231.9 441.6,1232.0 444.5,1232.1 447.5,1232.2 450.5,1232.3 453.5,1232.4 456.5,1232.4 459.5,1232.5 462.5,1232.6 465.4,1232.6 468.4,1232.7 471.4,1232.7 474.4,1232.7 477.4,1232.7 480.4,1232.8 483.4,1232.8 486.3,1232.8 489.3,1232.8 492.3,1232.8 495.3,1232.7 498.3,1232.7 501.3,1232.7 504.3,1232.6 507.2,1232.6 510.2,1232.5 513.2,1232.5 516.2,1232.4 519.2,1232.3 522.1,1232.3 525.1,1232.2 528.1,1232.1 531.1,1232.0 534.1,1231.9 537.1,1231.8 540.0,1231.6 543.0,1231.5 546.0,1231.4 549.0,1231.2 552.0,1231.1 554.9,1230.9 557.9,1230.8 560.9,1230.6 563.9,1230.4 566.8,1230.3 569.8,1230.1 572.8,1229.9 575.8,1229.7 578.8,1229.5 581.7,1229.3 584.7,1229.1 587.7,1228.9 590.7,1228.6 593.6,1228.4 596.6,1228.2 599.6,1227.9 602.6,1227.7 605.5,1227.4 608.5,1227.1 611.5,1226.9 614.5,1226.6 617.4,1226.3 620.4,1226.0 623.4,1225.7 626.4,1225.5 629.3,1225.2 632.3,1224.8 635.3,1224.5 638.2,1224.2 641.2,1223.9 644.2,1223.6 647.1,1223.2 650.1,1222.9 653.1,1222.5 656.1,1222.2 659.0,1221.8 662.0,1221.5 665.0,1221.1 667.9,1220.7 670.9,1220.4 673.9,1220.0 676.8,1219.6 679.8,1219.2 682.8,1218.8 685.7,1218.4 688.7,1218.0 691.7,1217.6 694.6,1217.2 697.6,1216.8 700.6,1216.3 703.5,1215.9 706.5,1215.5 709.4,1215.0 712.4,1214.6 715.4,1214.1 718.3,1213.7 721.3,1213.2 724.3,1212.8 727.2,1212.3 730.2,1211.8 733.1,1211.3 736.1,1210.9 739.1,1210.4 742.0,1209.9 745.0,1209.4 747.9,1208.9 750.9,1208.4 753.9,1207.9 756.8,1207.4 759.8,1206.9 762.7,1206.3 765.7,1205.8 768.6,1205.3 771.6,1204.8 774.5,1204.2 777.5,1203.7 780.5,1203.1 783.4,1202.6 786.4,1202.0 789.3,1201.5 792.3,1200.9 795.2,1200.4 798.2,1199.8 801.1,1199.2 804.1,1198.7 807.0,1198.1 810.0,1197.5 812.9,1196.9 815.9,1196.3 818.8,1195.7 821.8,1195.1 824.7,1194.5 827.7,1193.9 830.6,1193.3 833.6,1192.7 836.5,1192.1 839.5,1191.5 842.4,1190.9 845.3,1190.3 848.3,1189.6 851.2,1189.0 854.2,1188.4 857.1,1187.7 860.1,1187.1 863.0,1186.5 865.9,1185.8 868.9,1185.2 871.8,1184.5 874.8,1183.9 877.7,1183.2 880.6,1182.5 883.6,1181.9 886.5,1181.2 889.5,1180.5 892.4,1179.9 895.3,1179.2 898.3,1178.5 901.2,1177.8 904.1,1177.2 907.1,1176.5 910.0,1175.8 913.0,1175.1 915.9,1174.4 918.8,1173.7 921.8,1173.0 924.7,1172.3 927.6,1171.6 930.6,1170.9 933.5,1170.2 936.4,1169.5 939.4,1168.8 942.3,1168.1 945.2,1167.4 948.1,1166.6 951.1,1165.9 954.0,1165.2 956.9,1164.5 959.9,1163.8 962.8,1163.0 965.7,1162.3 968.6,1161.6 971.6,1160.8 974.5,1160.1 977.4,1159.4 980.3,1158.6 983.3,1157.9 986.2,1157.1 989.1,1156.4 992.0,1155.6 995.0,1154.9 997.9,1154.1 1000.8,1153.4 1003.7,1152.6 1006.6,1151.9 1009.6,1151.1 1012.5,1150.4 1015.4,1149.6 1018.3,1148.8 1021.2,1148.1 1024.1,1147.3 1027.1,1146.5 1030.0,1145.8 1032.9,1145.0 1035.8,1144.2 1038.7,1143.4 1041.6,1142.7 1044.6,1141.9 1047.5,1141.1 1050.4,1140.3 1053.3,1139.6 1056.2,1138.8 1059.1,1138.0 1062.0,1137.2 1064.9,1136.4 1067.9,1135.7 1070.8,1134.9 1073.7,1134.1 1076.6,1133.3 1079.5,1132.5 1082.4,1131.7 1085.3,1130.9 1088.2,1130.1 1091.1,1129.4 1094.0,1128.6 1096.9,1127.8 1099.8,1127.0 1102.7,1126.2 1105.7,1125.4 1108.6,1124.6 1111.5,1123.8 1114.4,1123.0 1117.3,1122.2 1120.2,1121.4 1123.1,1120.6 1126.0,1119.8 1128.9,1119.0 1131.8,1118.2 1134.7,1117.4 1137.6,1116.6 1140.5,1115.8 1143.4,1115.0 1146.3,1114.2 1149.2,1113.4 1152.1,1112.6 1155.0,1111.8 1157.8,1111.0 1160.7,1110.2 1163.6,1109.4 1166.5,1108.6 1169.4,1107.8 1172.3,1107.0 1175.2,1106.2 1178.1,1105.4 1181.0,1104.6 1183.9,1103.8 1186.8,1103.0 1189.7,1102.2 1192.6,1101.4 1195.4,1100.6 1198.3,1099.8 1201.2,1099.0 1204.1,1098.2 1207.0,1097.4 1209.9,1096.6 1212.8,1095.8 1215.7,1095.0 1218.5,1094.2 1221.4,1093.4 1224.3,1092.6 1227.2,1091.9 1230.1,1091.1 1233.0,1090.3 1235.8,1089.5 1238.7,1088.7 1241.6,1087.9 1244.5,1087.1 1247.4,1086.3 1250.2,1085.5 1253.1,1084.7 1256.0,1084.0 1258.9,1083.2 1261.8,1082.4 1264.6,1081.6 1267.5,1080.8 1270.4,1080.0 1273.3,1079.3 1276.1,1078.5 1279.0,1077.7 1281.9,1076.9 1284.8,1076.1 1287.6,1075.4 1290.5,1074.6 1293.4,1073.8 1296.3,1073.1 1299.1,1072.3 1302.0,1071.5L1303.9,1069.1 1305.8,1066.8 1307.7,1064.4 1309.6,1062.1 1311.6,1059.8 1313.5,1057.6 1315.5,1055.3 1317.6,1053.1 1319.6,1050.9 1321.7,1048.7 1323.8,1046.6 1325.9,1044.5 1328.0,1042.4 1330.1,1040.3 1332.3,1038.2 1334.5,1036.2 1336.7,1034.1 1338.9,1032.2 1341.2,1030.2 1343.4,1028.2 1345.7,1026.3 1348.0,1024.4 1350.3,1022.5 1352.7,1020.6 1355.0,1018.8 1357.4,1017.0 1359.8,1015.2 1362.2,1013.4 1364.6,1011.7 1367.0,1009.9 1369.5,1008.2 1371.9,1006.6 1374.4,1004.9 1376.9,1003.3 1379.4,1001.6 1381.9,1000.0 1384.5,998.5 1387.0,996.9 1389.6,995.4 1392.2,993.9 1394.8,992.4 1397.4,990.9 1400.0,989.5 1402.7,988.1 1405.3,986.7 1408.0,985.3 1410.6,984.0 1413.3,982.6 1416.0,981.3 1418.7,980.0 1421.5,978.8 1424.2,977.5 1426.9,976.3 1429.7,975.1 1432.5,974.0 1435.2,972.8 1438.0,971.7 1440.8,970.6 1443.6,969.5 1446.4,968.4 1449.3,967.4 1452.1,966.4 1454.9,965.4 1457.8,964.4 1460.7,963.5 1463.5,962.5 1466.4,961.6 1469.3,960.7 1472.2,959.9 1475.1,959.0 1478.0,958.2 1480.9,957.4 1483.8,956.7 1486.7,955.9 1489.7,955.2 1492.6,954.5 1495.5,953.8 1498.5,953.1 1501.4,952.5 1504.4,951.9 1507.3,951.3 1510.3,950.7 1513.3,950.1 1516.2,949.6 1519.2,949.1 1522.2,948.6 1525.2,948.1 1528.2,947.7 1531.2,947.3 1534.2,946.9 1537.2,946.5 1540.1,946.2 1543.1,945.8 1546.1,945.5 1549.1,945.2 1552.2,945.0 1555.2,944.7 1558.2,944.5 1561.2,944.3 1564.2,944.1 1567.2,944.0 1570.2,943.8 1573.2,943.7 1576.2,943.6 1579.2,943.6 1582.2,943.5 1585.2,943.5 1588.2,943.5 1591.2,943.5 1594.2,943.6 1597.2,943.6 1600.2,943.7 1603.2,943.8 1606.2,944.0 1609.1,944.1 1612.1,944.3 1615.1,944.5 1618.1,944.7 1621.1,944.9 1624.0,945.2 1627.0,945.4 1630.0,945.7 1632.9,946.0 1635.9,946.3 1638.9,946.7 1641.8,947.0 1644.8,947.4 1647.8,947.8 1650.7,948.2 1653.7,948.7 1656.6,949.1 1659.6,949.6 1662.5,950.0 1665.5,950.5 1668.4,951.0 1671.4,951.5 1674.3,952.1 1677.3,952.6 1680.2,953.2 1683.1,953.7 1686.1,954.3 1689.0,954.9 1692.0,955.5 1694.9,956.1 1697.8,956.8 1700.8,957.4 1703.7,958.1 1706.6,958.7 1709.5,959.4 1712.5,960.1 1715.4,960.8 1718.3,961.5 1721.2,962.2 1724.2,962.9 1727.1,963.7 1730.0,964.4 1732.9,965.1 1735.8,965.9 1738.8,966.6 1741.7,967.4 1744.6,968.2 1747.5,969.0 1750.4,969.7 1753.3,970.5 1756.2,971.3 1759.2,972.1 1762.1,972.9 1765.0,973.7 1767.9,974.6 1770.8,975.4 1773.7,976.2 1776.6,977.0 1779.5,977.9 1782.4,978.7 1785.3,979.5 1788.2,980.3 1791.1,981.2 1794.0,982.0 1796.9,982.8 1799.8,983.7 1802.8,984.5 1805.7,985.4 1808.6,986.2 1811.5,987.0 1814.4,987.9 1817.3,988.7 1820.2,989.5 1823.1,990.4 1826.0,991.2 1828.9,992.0 1831.8,992.8 1834.7,993.7 1837.6,994.5 1840.5,995.3 1843.4,996.1 1846.3,996.9 1849.2,997.7 1852.1,998.5 1855.0,999.3 1857.9,1000.1 1860.8,1000.8 1863.7,1001.6 1866.6,1002.4 1869.5,1003.1 1872.4,1003.9 1875.3,1004.6 1878.2,1005.3 1881.1,1006.1 1884.0,1006.8 1886.9,1007.5 1889.8,1008.2 1892.7,1008.9 1895.6,1009.6 1898.5,1010.2 1901.4,1010.9 1904.4,1011.5 1907.3,1012.2 1910.2,1012.8 1913.1,1013.4 1916.0,1014.0"/>
<path stroke="#00BEF0" d="M180.0,1212.0L246.0,1212.0L248.8,1213.3 251.7,1214.5 254.5,1215.8 257.4,1217.0 260.2,1218.1 263.1,1219.3 266.0,1220.4 268.8,1221.5 271.7,1222.6 274.5,1223.7 277.4,1224.7 280.3,1225.7 283.2,1226.7 286.0,1227.6 288.9,1228.6 291.8,1229.5 294.7,1230.3 297.6,1231.2 300.5,1232.0 303.4,1232.9 306.2,1233.6 309.1,1234.4 312.0,1235.1 314.9,1235.9 317.8,1236.6 320.7,1237.2 323.6,1237.9 326.6,1238.5 329.5,1239.1 332.4,1239.7 335.3,1240.3 338.2,1240.8 341.1,1241.4 344.0,1241.9 347.0,1242.3 349.9,1242.8 352.8,1243.2 355.7,1243.7 358.6,1244.1 361.6,1244.4 364.5,1244.8 367.4,1245.1 370.4,1245.5 373.3,1245.8 376.2,1246.1 379.2,1246.3 382.1,1246.6 385.0,1246.8 388.0,1247.0 390.9,1247.2 393.9,1247.3 396.8,1247.5 399.8,1247.6 402.7,1247.7 405.6,1247.8 408.6,1247.9 411.5,1248.0 414.5,1248.0 417.4,1248.1 420.4,1248.1 423.3,1248.1 426.3,1248.0 429.3,1248.0 432.2,1248.0 435.2,1247.9 438.1,1247.8 441.1,1247.7 444.0,1247.6 447.0,1247.4 449.9,1247.3 452.9,1247.1 455.9,1246.9 458.8,1246.8 461.8,1246.5 464.7,1246.3 467.7,1246.1 470.7,1245.8 473.6,1245.6 476.6,1245.3 479.5,1245.0 482.5,1244.7 485.5,1244.4 488.4,1244.0 491.4,1243.7 494.4,1243.3 497.3,1243.0 500.3,1242.6 503.2,1242.2 506.2,1241.8 509.2,1241.4 512.1,1240.9 515.1,1240.5 518.1,1240.0 521.0,1239.6 524.0,1239.1 526.9,1238.6 529.9,1238.1 532.9,1237.6 535.8,1237.0 538.8,1236.5 541.7,1236.0 544.7,1235.4 547.6,1234.9 550.6,1234.3 553.6,1233.7 556.5,1233.1 559.5,1232.5 562.4,1231.9 565.4,1231.3 568.3,1230.6 571.3,1230.0 574.2,1229.4 577.2,1228.7 580.1,1228.0 583.1,1227.4 586.0,1226.7 589.0,1226.0 591.9,1225.3 594.9,1224.6 597.8,1223.9 600.8,1223.2 603.7,1222.5 606.6,1221.7 609.6,1221.0 612.5,1220.2 615.4,1219.5 618.4,1218.7 621.3,1218.0 624.2,1217.2 627.2,1216.4 630.1,1215.7 633.0,1214.9 636.0,1214.1 638.9,1213.3 641.8,1212.5 644.7,1211.7 647.6,1210.9 650.6,1210.1 653.5,1209.2 656.4,1208.4 659.3,1207.6 662.2,1206.8 665.1,1205.9 668.0,1205.1 670.9,1204.3 673.8,1203.4 676.7,1202.6 679.6,1201.7 682.5,1200.9 685.4,1200.0 688.3,1199.1 691.2,1198.3 694.1,1197.4 697.0,1196.5 699.9,1195.7 702.8,1194.8 705.7,1193.9 708.5,1193.0 711.4,1192.1 714.3,1191.2 717.2,1190.3 720.1,1189.4 722.9,1188.5 725.8,1187.6 728.7,1186.7 731.5,1185.8 734.4,1184.8 737.3,1183.9 740.1,1183.0 743.0,1182.1 745.8,1181.1 748.7,1180.2 751.6,1179.2 754.4,1178.3 757.3,1177.3 760.1,1176.4 763.0,1175.4 765.8,1174.5 768.6,1173.5 771.5,1172.5 774.3,1171.6 777.2,1170.6 780.0,1169.6 782.8,1168.6 785.7,1167.6 788.5,1166.6 791.3,1165.6 794.2,1164.6 797.0,1163.6 799.8,1162.6 802.6,1161.6 805.5,1160.6 808.3,1159.6 811.1,1158.6 813.9,1157.5 816.7,1156.5 819.5,1155.5 822.4,1154.4 825.2,1153.4 828.0,1152.4 830.8,1151.3 833.6,1150.3 836.4,1149.2 839.2,1148.1 842.0,1147.1 844.8,1146.0 847.6,1144.9 850.4,1143.9 853.2,1142.8 856.0,1141.7 858.7,1140.6 861.5,1139.5 864.3,1138.4 867.1,1137.3 869.9,1136.2 872.7,1135.1 875.4,1134.0 878.2,1132.9 881.0,1131.8 883.8,1130.6 886.5,1129.5 889.3,1128.4 892.1,1127.2 894.9,1126.1 897.6,1125.0 900.4,1123.8 903.1,1122.7 905.9,1121.5 908.7,1120.4 911.4,1119.2 914.2,1118.0 916.9,1116.9 919.7,1115.7 922.4,1114.5 925.2,1113.3 927.9,1112.1 930.7,1111.0 933.4,1109.8 936.2,1108.6 938.9,1107.4 941.7,1106.2 944.4,1104.9 947.1,1103.7 949.9,1102.5 952.6,1101.3 955.3,1100.1 958.1,1098.8 960.8,1097.6 963.5,1096.4 966.2,1095.1 969.0,1093.9 971.7,1092.6 974.4,1091.4 977.1,1090.1 979.9,1088.9 982.6,1087.6 985.3,1086.3 988.0,1085.1 990.7,1083.8 993.4,1082.5 996.1,1081.2 998.8,1079.9 1001.5,1078.6 1004.2,1077.3 1006.9,1076.0 1009.6,1074.7 1012.3,1073.4 1015.0,1072.1 1017.7,1070.8 1020.4,1069.5 1023.1,1068.1 1025.8,1066.8 1028.5,1065.5 1031.2,1064.1 1033.9,1062.8 1036.6,1061.4 1039.3,1060.1 1041.9,1058.7 1044.6,1057.4 1047.3,1056.0 1050.0,1054.6 1052.7,1053.3 1055.3,1051.9 1058.0,1050.5L1059.7,1048.0 1061.4,1045.6 1063.1,1043.1 1064.8,1040.7 1066.6,1038.2 1068.4,1035.8 1070.1,1033.4 1071.9,1030.9 1073.7,1028.5 1075.5,1026.1 1077.4,1023.7 1079.2,1021.3 1081.1,1018.9 1082.9,1016.5 1084.8,1014.2 1086.7,1011.8 1088.7,1009.5 1090.6,1007.1 1092.5,1004.8 1094.5,1002.5 1096.4,1000.2 1098.4,997.9 1100.4,995.6 1102.4,993.3 1104.5,991.0 1106.5,988.8 1108.6,986.5 1110.6,984.3 1112.7,982.1 1114.8,979.9 1116.9,977.7 1119.0,975.5 1121.2,973.3 1123.3,971.2 1125.5,969.0 1127.6,966.9 1129.8,964.8 1132.0,962.7 1134.2,960.7 1136.5,958.6 1138.7,956.5 1140.9,954.5 1143.2,952.5 1145.5,950.5 1147.8,948.5 1150.1,946.6 1152.4,944.6 1154.7,942.7 1157.1,940.8 1159.4,938.9 1161.8,937.0 1164.2,935.2 1166.5,933.4 1168.9,931.5 1171.4,929.8 1173.8,928.0 1176.2,926.2 1178.7,924.5 1181.1,922.8 1183.6,921.1 1186.1,919.4 1188.6,917.8 1191.1,916.2 1193.7,914.6 1196.2,913.0 1198.7,911.4 1201.3,909.9 1203.9,908.4 1206.5,906.9 1209.1,905.4 1211.7,904.0 1214.3,902.6 1216.9,901.2 1219.6,899.8 1222.2,898.5 1224.9,897.2 1227.6,895.9 1230.3,894.6 1233.0,893.4 1235.7,892.2 1238.4,891.0 1241.1,889.8 1243.9,888.7 1246.6,887.5 1249.4,886.4 1252.1,885.4 1254.9,884.3 1257.7,883.3 1260.5,882.3 1263.3,881.3 1266.1,880.3 1268.9,879.4 1271.8,878.4 1274.6,877.5 1277.5,876.7 1280.3,875.8 1283.2,875.0 1286.0,874.2 1288.9,873.4 1291.8,872.6 1294.7,871.9 1297.6,871.1 1300.5,870.4 1303.4,869.8 1306.3,869.1 1309.2,868.5 1312.2,867.8 1315.1,867.2 1318.0,866.7 1321.0,866.1 1323.9,865.6 1326.9,865.0 1329.8,864.5 1332.8,864.1 1335.8,863.6 1338.7,863.2 1341.7,862.7 1344.7,862.3 1347.7,862.0 1350.6,861.6 1353.6,861.2 1356.6,860.9 1359.6,860.6 1362.6,860.3 1365.6,860.1 1368.6,859.8 1371.6,859.6 1374.6,859.4 1377.6,859.2 1380.6,859.0 1383.6,858.8 1386.7,858.7 1389.7,858.6 1392.7,858.5 1395.7,858.4 1398.7,858.3 1401.7,858.2 1404.8,858.2 1407.8,858.2 1410.8,858.2 1413.8,858.2 1416.8,858.2 1419.8,858.3 1422.8,858.3 1425.9,858.4 1428.9,858.5 1431.9,858.6 1434.9,858.7 1437.9,858.9 1440.9,859.0 1443.9,859.2 1446.9,859.4 1449.9,859.6 1452.9,859.8 1455.9,860.1 1458.9,860.3 1461.9,860.6 1464.9,860.9 1467.9,861.2 1470.9,861.5 1473.8,861.8 1476.8,862.1 1479.8,862.5 1482.8,862.8 1485.7,863.2 1488.7,863.6 1491.7,864.0 1494.6,864.4 1497.6,864.9 1500.6,865.3 1503.5,865.8 1506.5,866.2 1509.4,866.7 1512.4,867.2 1515.3,867.7 1518.3,868.2 1521.2,868.8 1524.2,869.3 1527.1,869.9 1530.1,870.4 1533.0,871.0 1535.9,871.6 1538.9,872.2 1541.8,872.8 1544.7,873.4 1547.7,874.1 1550.6,874.7 1553.5,875.3 1556.5,876.0 1559.4,876.7 1562.3,877.4 1565.2,878.1 1568.1,878.8 1571.1,879.5 1574.0,880.2 1576.9,880.9 1579.8,881.7 1582.7,882.4 1585.6,883.2 1588.5,884.0 1591.4,884.7 1594.3,885.5 1597.2,886.3 1600.1,887.1 1603.0,887.9 1605.9,888.8 1608.8,889.6 1611.7,890.4 1614.6,891.3 1617.5,892.1 1620.4,893.0 1623.3,893.8 1626.1,894.7 1629.0,895.6 1631.9,896.5 1634.8,897.4 1637.7,898.3 1640.5,899.2 1643.4,900.1 1646.3,901.0 1649.2,901.9 1652.1,902.9 1654.9,903.8 1657.8,904.7 1660.7,905.7 1663.5,906.6 1666.4,907.6 1669.3,908.6 1672.1,909.5 1675.0,910.5 1677.9,911.5 1680.7,912.5 1683.6,913.5 1686.4,914.4 1689.3,915.4 1692.2,916.4 1695.0,917.4 1697.9,918.4 1700.7,919.4 1703.6,920.5 1706.4,921.5 1709.3,922.5 1712.1,923.5 1715.0,924.5 1717.8,925.6 1720.7,926.6 1723.5,927.6 1726.4,928.7 1729.2,929.7 1732.1,930.7 1734.9,931.8 1737.8,932.8 1740.6,933.9 1743.4,934.9 1746.3,936.0 1749.1,937.0 1752.0,938.1 1754.8,939.1 1757.6,940.2 1760.5,941.2 1763.3,942.3 1766.1,943.3 1769.0,944.4 1771.8,945.4 1774.7,946.5 1777.5,947.5 1780.3,948.6 1783.2,949.6 1786.0,950.7 1788.8,951.7 1791.6,952.8 1794.5,953.8 1797.3,954.9 1800.1,955.9 1803.0,957.0 1805.8,958.0 1808.6,959.0 1811.5,960.1 1814.3,961.1 1817.1,962.2 1819.9,963.2 1822.8,964.2 1825.6,965.2 1828.4,966.3 1831.2,967.3 1834.1,968.3 1836.9,969.3 1839.7,970.3 1842.5,971.4 1845.4,972.4 1848.2,973.4 1851.0,974.4 1853.8,975.4 1856.7,976.3 1859.5,977.3 1862.3,978.3 1865.1,979.3 1868.0,980.3 1870.8,981.2 1873.6,982.2 1876.4,983.2 1879.3,984.1 1882.1,985.1 1884.9,986.0 1887.7,987.0 1890.6,987.9 1893.4,988.8 1896.2,989.7 1899.0,990.6 1901.9,991.6 1904.7,992.5 1907.5,993.4 1910.3,994.2 1913.2,995.1 1916.0,996.0"/>
<path stroke="#C2001F" d="M180.0,1212.0L225.0,1212.0L227.5,1214.0 230.1,1215.9 232.6,1217.8 235.2,1219.7 237.7,1221.5 240.3,1223.3 242.9,1225.1 245.5,1226.8 248.1,1228.4 250.8,1230.0 253.4,1231.6 256.1,1233.2 258.7,1234.7 261.4,1236.1 264.1,1237.6 266.8,1238.9 269.5,1240.3 272.2,1241.6 275.0,1242.9 277.7,1244.1 280.4,1245.3 283.2,1246.5 286.0,1247.6 288.7,1248.7 291.5,1249.7 294.3,1250.7 297.1,1251.7 299.9,1252.6 302.7,1253.6 305.5,1254.4 308.4,1255.3 311.2,1256.1 314.0,1256.8 316.9,1257.6 319.7,1258.3 322.6,1259.0 325.5,1259.6 328.3,1260.2 331.2,1260.8 334.1,1261.3 337.0,1261.8 339.9,1262.3 342.8,1262.8 345.7,1263.2 348.6,1263.6 351.5,1263.9 354.4,1264.3 357.3,1264.6 360.2,1264.8 363.1,1265.1 366.1,1265.3 369.0,1265.5 371.9,1265.6 374.9,1265.8 377.8,1265.9 380.7,1265.9 383.7,1266.0 386.6,1266.0 389.6,1266.0 392.5,1266.0 395.5,1265.9 398.4,1265.8 401.3,1265.7 404.3,1265.6 407.2,1265.4 410.2,1265.2 413.1,1265.0 416.1,1264.8 419.0,1264.5 422.0,1264.3 424.9,1264.0 427.9,1263.6 430.8,1263.3 433.8,1262.9 436.7,1262.5 439.6,1262.1 442.6,1261.7 445.5,1261.2 448.5,1260.8 451.4,1260.3 454.4,1259.8 457.3,1259.2 460.2,1258.7 463.2,1258.1 466.1,1257.5 469.1,1256.9 472.0,1256.3 474.9,1255.7 477.9,1255.0 480.8,1254.3 483.7,1253.6 486.7,1252.9 489.6,1252.2 492.5,1251.5 495.4,1250.7 498.4,1250.0 501.3,1249.2 504.2,1248.4 507.1,1247.6 510.0,1246.7 512.9,1245.9 515.8,1245.1 518.7,1244.2 521.6,1243.3 524.5,1242.4 527.4,1241.5 530.3,1240.6 533.2,1239.7 536.1,1238.8 539.0,1237.8 541.9,1236.9 544.8,1235.9 547.7,1234.9 550.5,1233.9 553.4,1232.9 556.3,1231.9 559.1,1230.9 562.0,1229.9 564.9,1228.9 567.7,1227.9 570.6,1226.8 573.4,1225.8 576.2,1224.7 579.1,1223.7 581.9,1222.6 584.8,1221.5 587.6,1220.4 590.4,1219.4 593.2,1218.3 596.0,1217.2 598.9,1216.1 601.7,1215.0 604.5,1213.8 607.3,1212.7 610.1,1211.6 612.9,1210.5 615.7,1209.3 618.5,1208.2 621.2,1207.0 624.0,1205.9 626.8,1204.7 629.6,1203.5 632.4,1202.4 635.1,1201.2 637.9,1200.0 640.7,1198.8 643.4,1197.6 646.2,1196.4 648.9,1195.2 651.7,1194.0 654.4,1192.8 657.2,1191.6 659.9,1190.3 662.7,1189.1 665.4,1187.9 668.2,1186.6 670.9,1185.4 673.6,1184.1 676.4,1182.9 679.1,1181.6 681.8,1180.4 684.5,1179.1 687.2,1177.8 690.0,1176.6 692.7,1175.3 695.4,1174.0 698.1,1172.7 700.8,1171.4 703.5,1170.1 706.2,1168.8 708.9,1167.5 711.6,1166.2 714.3,1164.9 717.0,1163.6 719.7,1162.2 722.4,1160.9 725.1,1159.6 727.8,1158.3 730.4,1156.9 733.1,1155.6 735.8,1154.3 738.5,1152.9 741.2,1151.6 743.8,1150.2 746.5,1148.9 749.2,1147.5 751.9,1146.1 754.5,1144.8 757.2,1143.4 759.9,1142.0 762.5,1140.7 765.2,1139.3 767.9,1137.9 770.5,1136.5 773.2,1135.1 775.8,1133.8 778.5,1132.4 781.1,1131.0 783.8,1129.6 786.5,1128.2 789.1,1126.8 791.8,1125.4 794.4,1124.0 797.1,1122.6 799.7,1121.2 802.3,1119.8 805.0,1118.4 807.6,1116.9 810.3,1115.5 812.9,1114.1 815.6,1112.7 818.2,1111.3 820.9,1109.8 823.5,1108.4 826.1,1107.0 828.8,1105.6 831.4,1104.1 834.0,1102.7 836.7,1101.3 839.3,1099.8 842.0,1098.4 844.6,1097.0 847.2,1095.5 849.9,1094.1 852.5,1092.7 855.1,1091.2 857.8,1089.8 860.4,1088.3 863.0,1086.9 865.7,1085.5 868.3,1084.0 870.9,1082.6 873.6,1081.1 876.2,1079.7 878.8,1078.2 881.5,1076.8 884.1,1075.3 886.7,1073.9 889.4,1072.5 892.0,1071.0L893.4,1068.3 894.7,1065.7 896.1,1063.0 897.5,1060.4 898.9,1057.8 900.3,1055.1 901.7,1052.5 903.1,1049.9 904.6,1047.2 906.0,1044.6 907.5,1042.0 908.9,1039.4 910.4,1036.8 911.9,1034.2 913.5,1031.6 915.0,1029.0 916.5,1026.4 918.1,1023.9 919.6,1021.3 921.2,1018.8 922.8,1016.2 924.4,1013.7 926.0,1011.1 927.6,1008.6 929.2,1006.1 930.9,1003.5 932.6,1001.0 934.2,998.5 935.9,996.0 937.6,993.6 939.3,991.1 941.0,988.6 942.8,986.2 944.5,983.7 946.3,981.3 948.0,978.8 949.8,976.4 951.6,974.0 953.4,971.6 955.3,969.2 957.1,966.8 958.9,964.4 960.8,962.1 962.7,959.7 964.6,957.4 966.5,955.0 968.4,952.7 970.3,950.4 972.2,948.1 974.2,945.8 976.1,943.6 978.1,941.3 980.1,939.0 982.1,936.8 984.1,934.6 986.2,932.4 988.2,930.1 990.3,928.0 992.3,925.8 994.4,923.6 996.5,921.5 998.6,919.3 1000.7,917.2 1002.9,915.1 1005.0,913.0 1007.2,910.9 1009.4,908.8 1011.5,906.8 1013.8,904.7 1016.0,902.7 1018.2,900.7 1020.4,898.7 1022.7,896.7 1025.0,894.8 1027.3,892.8 1029.5,890.9 1031.9,888.9 1034.2,887.0 1036.5,885.1 1038.9,883.3 1041.2,881.4 1043.6,879.6 1046.0,877.8 1048.4,875.9 1050.8,874.2 1053.3,872.4 1055.7,870.6 1058.2,868.9 1060.6,867.2 1063.1,865.5 1065.6,863.8 1068.1,862.1 1070.6,860.5 1073.1,858.8 1075.7,857.2 1078.2,855.6 1080.8,854.0 1083.3,852.5 1085.9,850.9 1088.5,849.4 1091.1,847.9 1093.7,846.4 1096.3,845.0 1099.0,843.5 1101.6,842.1 1104.3,840.7 1106.9,839.3 1109.6,838.0 1112.3,836.6 1115.0,835.3 1117.6,834.0 1120.4,832.7 1123.1,831.4 1125.8,830.2 1128.5,829.0 1131.3,827.8 1134.0,826.6 1136.8,825.5 1139.5,824.3 1142.3,823.2 1145.1,822.1 1147.9,821.1 1150.7,820.0 1153.5,819.0 1156.3,818.0 1159.1,817.0 1161.9,816.1 1164.7,815.1 1167.6,814.2 1170.4,813.3 1173.3,812.5 1176.1,811.7 1179.0,810.8 1181.8,810.0 1184.7,809.3 1187.6,808.5 1190.5,807.8 1193.4,807.1 1196.2,806.5 1199.1,805.8 1202.0,805.2 1205.0,804.6 1207.9,804.0 1210.8,803.5 1213.7,803.0 1216.6,802.5 1219.6,802.0 1222.5,801.6 1225.4,801.2 1228.4,800.8 1231.3,800.4 1234.3,800.1 1237.2,799.8 1240.2,799.5 1243.1,799.2 1246.1,799.0 1249.0,798.8 1252.0,798.6 1255.0,798.4 1257.9,798.3 1260.9,798.2 1263.9,798.1 1266.9,798.0 1269.8,798.0 1272.8,798.0 1275.8,797.9 1278.8,798.0 1281.8,798.0 1284.8,798.1 1287.7,798.1 1290.7,798.2 1293.7,798.4 1296.7,798.5 1299.7,798.7 1302.7,798.9 1305.7,799.0 1308.7,799.3 1311.7,799.5 1314.7,799.8 1317.7,800.0 1320.7,800.3 1323.7,800.6 1326.7,800.9 1329.7,801.3 1332.7,801.6 1335.7,802.0 1338.7,802.4 1341.7,802.8 1344.7,803.2 1347.7,803.7 1350.7,804.1 1353.7,804.6 1356.7,805.0 1359.7,805.5 1362.7,806.0 1365.7,806.6 1368.7,807.1 1371.7,807.6 1374.7,808.2 1377.7,808.8 1380.7,809.3 1383.7,809.9 1386.6,810.5 1389.6,811.1 1392.6,811.8 1395.6,812.4 1398.6,813.0 1401.5,813.7 1404.5,814.3 1407.5,815.0 1410.5,815.7 1413.4,816.4 1416.4,817.1 1419.3,817.8 1422.3,818.5 1425.3,819.2 1428.2,819.9 1431.2,820.7 1434.1,821.4 1437.0,822.2 1440.0,822.9 1442.9,823.7 1445.8,824.4 1448.8,825.2 1451.7,826.0 1454.6,826.7 1457.5,827.5 1460.4,828.3 1463.3,829.1 1466.2,829.9 1469.1,830.7 1472.0,831.5 1474.9,832.3 1477.8,833.1 1480.7,833.9 1483.6,834.7 1486.4,835.5 1489.3,836.3 1492.2,837.1 1495.0,838.0 1497.9,838.8 1500.7,839.6 1503.6,840.5 1506.4,841.3 1509.3,842.1 1512.1,843.0 1514.9,843.8 1517.8,844.7 1520.6,845.5 1523.4,846.4 1526.3,847.3 1529.1,848.1 1531.9,849.0 1534.7,849.9 1537.6,850.8 1540.4,851.7 1543.2,852.6 1546.0,853.5 1548.9,854.4 1551.7,855.4 1554.5,856.3 1557.3,857.2 1560.2,858.1 1563.0,859.1 1565.8,860.0 1568.6,861.0 1571.4,861.9 1574.3,862.9 1577.1,863.8 1579.9,864.8 1582.7,865.8 1585.6,866.7 1588.4,867.7 1591.2,868.7 1594.1,869.6 1596.9,870.6 1599.7,871.6 1602.6,872.6 1605.4,873.5 1608.2,874.5 1611.1,875.5 1613.9,876.5 1616.8,877.4 1619.6,878.4 1622.5,879.4 1625.3,880.3 1628.2,881.3 1631.0,882.3 1633.9,883.3 1636.7,884.2 1639.6,885.2 1642.5,886.1 1645.3,887.1 1648.2,888.0 1651.0,889.0 1653.9,889.9 1656.8,890.9 1659.6,891.8 1662.5,892.7 1665.4,893.7 1668.3,894.6 1671.1,895.5 1674.0,896.4 1676.9,897.3 1679.8,898.2 1682.6,899.1 1685.5,900.0 1688.4,900.8 1691.3,901.7 1694.2,902.5 1697.1,903.4 1699.9,904.2 1702.8,905.1 1705.7,905.9 1708.6,906.7 1711.5,907.5L1714.1,906.0 1716.8,904.5 1719.4,903.1 1722.2,901.8 1724.9,900.5 1727.6,899.3 1730.4,898.2 1733.2,897.2 1736.0,896.2 1738.9,895.3 1741.7,894.5 1744.6,893.8 1747.5,893.1 1750.4,892.5 1753.4,892.0 1756.3,891.6 1759.3,891.3 1762.2,891.0 1765.2,890.8 1768.2,890.7 1771.2,890.7 1774.2,890.8 1777.2,890.9 1780.2,891.2 1783.2,891.5 1786.3,891.9 1789.3,892.4L1791.1,894.8 1792.9,897.2 1794.7,899.6 1796.6,902.0 1798.4,904.4 1800.2,906.7 1802.1,909.1 1804.0,911.5 1805.8,913.8 1807.7,916.2 1809.6,918.5 1811.5,920.8 1813.4,923.2 1815.3,925.5 1817.3,927.8 1819.2,930.1 1821.2,932.4 1823.1,934.7 1825.1,936.9 1827.1,939.2 1829.0,941.5 1831.0,943.7 1833.0,946.0 1835.0,948.2 1837.1,950.4 1839.1,952.6 1841.1,954.9 1843.2,957.1 1845.2,959.2 1847.3,961.4 1849.4,963.6 1851.5,965.8 1853.6,967.9 1855.7,970.1 1857.8,972.2 1859.9,974.4 1862.0,976.5 1864.2,978.6 1866.3,980.7 1868.5,982.8 1870.7,984.9 1872.8,986.9 1875.0,989.0 1877.2,991.0 1879.4,993.1 1881.6,995.1 1883.9,997.1 1886.1,999.2 1888.3,1001.2 1890.6,1003.1 1892.9,1005.1 1895.1,1007.1 1897.4,1009.1 1899.7,1011.0 1902.0,1012.9 1904.3,1014.9 1906.6,1016.8 1909.0,1018.7 1911.3,1020.6 1913.6,1022.5 1916.0,1024.3"/>
<path stroke="#0072BD" d="M180.0,1212.0L207.0,1212.0L209.1,1214.1 211.1,1216.3 213.2,1218.4 215.4,1220.5 217.5,1222.6 219.7,1224.7 221.9,1226.8 224.1,1228.8 226.4,1230.8 228.6,1232.8 230.9,1234.8 233.2,1236.8 235.6,1238.7 237.9,1240.7 240.3,1242.6 242.7,1244.4 245.2,1246.3 247.6,1248.1 250.1,1249.9 252.6,1251.7 255.1,1253.4 257.6,1255.2 260.1,1256.9 262.7,1258.5 265.2,1260.1 267.8,1261.7 270.4,1263.3 273.1,1264.8 275.7,1266.3 278.4,1267.8 281.0,1269.2 283.7,1270.6 286.4,1272.0 289.1,1273.3 291.8,1274.6 294.6,1275.9 297.3,1277.1 300.1,1278.2 302.8,1279.4 305.6,1280.5 308.4,1281.5 311.2,1282.5 314.0,1283.5 316.9,1284.4 319.7,1285.3 322.5,1286.1 325.4,1286.9 328.2,1287.6 331.1,1288.3 334.0,1288.9 336.8,1289.5 339.7,1290.0 342.6,1290.5 345.5,1291.0 348.4,1291.4 351.3,1291.8 354.2,1292.1 357.1,1292.4 360.1,1292.6 363.0,1292.8 365.9,1293.0 368.8,1293.1 371.8,1293.2 374.7,1293.2 377.7,1293.2 380.6,1293.1 383.5,1293.1 386.5,1292.9 389.4,1292.8 392.4,1292.6 395.3,1292.4 398.3,1292.1 401.2,1291.8 404.2,1291.5 407.1,1291.1 410.1,1290.7 413.0,1290.3 415.9,1289.8 418.9,1289.3 421.8,1288.8 424.8,1288.2 427.7,1287.6 430.6,1287.0 433.5,1286.3 436.5,1285.7 439.4,1285.0 442.3,1284.2 445.2,1283.5 448.1,1282.7 451.0,1281.9 453.9,1281.0 456.8,1280.2 459.7,1279.3 462.5,1278.3 465.4,1277.4 468.3,1276.4 471.1,1275.5 474.0,1274.5 476.8,1273.4 479.6,1272.4 482.4,1271.3 485.3,1270.2 488.1,1269.1 490.9,1268.0 493.6,1266.8 496.4,1265.7 499.2,1264.5 502.0,1263.3 504.7,1262.1 507.5,1260.8 510.2,1259.6 513.0,1258.3 515.7,1257.0 518.4,1255.7 521.1,1254.4 523.8,1253.1 526.5,1251.8 529.2,1250.4 531.9,1249.1 534.6,1247.7 537.3,1246.3 540.0,1244.9 542.7,1243.5 545.3,1242.1 548.0,1240.6 550.7,1239.2 553.3,1237.8 556.0,1236.3 558.6,1234.8 561.2,1233.4 563.9,1231.9 566.5,1230.4 569.1,1228.9 571.8,1227.4 574.4,1225.9 577.0,1224.4 579.6,1222.9 582.2,1221.4 584.8,1219.8 587.5,1218.3 590.1,1216.8 592.7,1215.3 595.3,1213.7 597.9,1212.2 600.4,1210.6 603.0,1209.1 605.6,1207.6 608.2,1206.0 610.8,1204.5 613.4,1203.0 616.0,1201.4 618.6,1199.9 621.1,1198.4 623.7,1196.8 626.3,1195.3 628.9,1193.7 631.4,1192.2 634.0,1190.6 636.5,1189.1 639.1,1187.5 641.6,1186.0 644.2,1184.4 646.7,1182.8 649.2,1181.2 651.8,1179.6 654.3,1178.0 656.8,1176.4 659.3,1174.8 661.8,1173.2 664.3,1171.6 666.8,1169.9 669.3,1168.3 671.7,1166.6 674.2,1164.9 676.7,1163.2 679.1,1161.5 681.5,1159.8 684.0,1158.1 686.4,1156.3 688.8,1154.6 691.2,1152.8 693.6,1151.0 696.0,1149.2 698.3,1147.4 700.7,1145.6 703.0,1143.7 705.4,1141.8 707.7,1139.9 710.0,1138.0 712.3,1136.1 714.6,1134.2 716.8,1132.2 719.1,1130.2 721.3,1128.2 723.6,1126.1 725.8,1124.1 728.0,1122.0L729.0,1119.2 729.9,1116.4 730.9,1113.6 731.9,1110.9 732.9,1108.1 733.9,1105.3 735.0,1102.5 736.0,1099.7 737.1,1097.0 738.2,1094.2 739.2,1091.4 740.3,1088.7 741.5,1085.9 742.6,1083.1 743.7,1080.4 744.9,1077.6 746.0,1074.8 747.2,1072.1 748.4,1069.3 749.6,1066.6 750.8,1063.8 752.0,1061.1 753.3,1058.4 754.5,1055.6 755.8,1052.9 757.0,1050.2 758.3,1047.5 759.6,1044.7 760.9,1042.0 762.3,1039.3 763.6,1036.6 765.0,1033.9 766.3,1031.2 767.7,1028.5 769.1,1025.8 770.5,1023.1 771.9,1020.5 773.3,1017.8 774.7,1015.1 776.2,1012.5 777.7,1009.8 779.1,1007.2 780.6,1004.5 782.1,1001.9 783.6,999.3 785.1,996.6 786.7,994.0 788.2,991.4 789.8,988.8 791.4,986.2 792.9,983.6 794.5,981.0 796.1,978.5 797.8,975.9 799.4,973.3 801.0,970.8 802.7,968.2 804.4,965.7 806.0,963.2 807.7,960.7 809.4,958.1 811.1,955.6 812.9,953.1 814.6,950.7 816.4,948.2 818.1,945.7 819.9,943.3 821.7,940.8 823.5,938.4 825.3,935.9 827.1,933.5 829.0,931.1 830.8,928.7 832.7,926.3 834.6,923.9 836.4,921.5 838.3,919.2 840.2,916.8 842.2,914.5 844.1,912.1 846.0,909.8 848.0,907.5 850.0,905.2 851.9,902.9 853.9,900.7 855.9,898.4 857.9,896.1 860.0,893.9 862.0,891.7 864.1,889.4 866.1,887.2 868.2,885.0 870.3,882.9 872.4,880.7 874.5,878.5 876.6,876.4 878.7,874.3 880.9,872.1 883.0,870.0 885.2,868.0 887.4,865.9 889.6,863.8 891.8,861.8 894.0,859.7 896.2,857.7 898.4,855.7 900.7,853.7 902.9,851.7 905.2,849.7 907.5,847.8 909.8,845.9 912.1,843.9 914.4,842.0 916.7,840.1 919.1,838.2 921.4,836.4 923.8,834.5 926.2,832.7 928.5,830.9 930.9,829.1 933.3,827.3 935.8,825.5 938.2,823.8 940.6,822.0 943.1,820.3 945.5,818.6 948.0,816.9 950.5,815.3 953.0,813.6 955.5,812.0 958.0,810.3 960.5,808.7 963.0,807.2 965.6,805.6 968.1,804.0 970.7,802.5 973.3,801.0 975.8,799.5 978.4,798.0 981.0,796.5 983.6,795.1 986.3,793.7 988.9,792.2 991.5,790.9 994.2,789.5 996.8,788.1 999.5,786.8 1002.2,785.5 1004.8,784.2 1007.5,782.9 1010.2,781.6 1012.9,780.4 1015.6,779.2 1018.4,778.0 1021.1,776.8 1023.8,775.6 1026.6,774.5 1029.3,773.4 1032.1,772.3 1034.8,771.2 1037.6,770.1 1040.4,769.1 1043.2,768.1 1046.0,767.1 1048.8,766.1 1051.6,765.1 1054.4,764.2 1057.2,763.3 1060.1,762.4 1062.9,761.5 1065.8,760.6 1068.6,759.8 1071.5,759.0 1074.3,758.2 1077.2,757.4 1080.1,756.7 1083.0,756.0 1085.9,755.3 1088.8,754.6 1091.7,753.9 1094.6,753.3 1097.5,752.7 1100.4,752.1 1103.3,751.5 1106.2,751.0 1109.2,750.5 1112.1,750.0 1115.1,749.5 1118.0,749.1 1121.0,748.6 1123.9,748.2 1126.9,747.9 1129.9,747.5 1132.8,747.2 1135.8,746.9 1138.8,746.6 1141.8,746.3 1144.8,746.1 1147.8,745.9 1150.8,745.7 1153.8,745.5 1156.8,745.4 1159.8,745.3 1162.8,745.2 1165.8,745.2 1168.9,745.1 1171.9,745.1 1174.9,745.1 1178.0,745.2 1181.0,745.2 1184.0,745.3 1187.1,745.5 1190.1,745.6 1193.2,745.8 1196.2,746.0 1199.3,746.2 1202.3,746.5 1205.4,746.7 1208.5,747.0 1211.5,747.4 1214.6,747.7 1217.7,748.1 1220.7,748.5 1223.8,749.0 1226.9,749.4 1230.0,749.9 1233.0,750.5 1236.1,751.0L1238.1,747.6 1240.1,745.2 1242.1,742.9 1244.2,740.6 1246.3,738.4 1248.5,736.2 1250.7,734.1 1252.9,732.1 1255.2,730.1 1257.5,728.2 1259.9,726.3 1262.3,724.5 1264.7,722.7 1267.1,721.0 1269.6,719.4 1272.1,717.8 1274.7,716.2 1277.3,714.7 1279.9,713.3 1282.5,711.9 1285.1,710.6 1287.8,709.3 1290.5,708.1 1293.2,706.9 1296.0,705.8 1298.8,704.7 1301.5,703.7 1304.4,702.8 1307.2,701.9 1310.0,701.0 1312.9,700.2 1315.8,699.5 1318.6,698.8 1321.6,698.1 1324.5,697.5 1327.4,697.0 1330.3,696.5 1333.3,696.1 1336.2,695.7 1339.2,695.4 1342.2,695.1 1345.2,694.9 1348.2,694.7 1351.2,694.6 1354.1,694.5 1357.1,694.5 1360.1,694.6 1363.1,694.7 1366.2,694.8 1369.2,695.0 1372.2,695.2 1375.1,695.5 1378.1,695.8 1381.1,696.2 1384.1,696.7 1387.1,697.2 1390.1,697.7 1393.0,698.3 1396.0,698.9 1398.9,699.6 1401.8,700.3 1404.8,701.1 1407.7,702.0 1410.6,702.9 1413.4,703.8 1416.3,704.8 1419.1,705.8 1422.0,706.9 1424.8,708.0 1427.6,709.2 1430.3,710.4 1433.1,711.7 1435.8,713.0L1437.0,715.7 1438.3,718.5 1439.5,721.2 1440.7,723.9 1442.0,726.6 1443.3,729.4 1444.5,732.1 1445.8,734.8 1447.1,737.5 1448.4,740.2 1449.7,742.9 1451.0,745.6 1452.4,748.3 1453.7,751.0 1455.0,753.7 1456.4,756.4 1457.7,759.1 1459.1,761.8 1460.5,764.5 1461.9,767.1 1463.3,769.8 1464.7,772.5 1466.1,775.1 1467.5,777.8 1468.9,780.5 1470.4,783.1 1471.8,785.8 1473.3,788.4 1474.7,791.0 1476.2,793.7 1477.7,796.3 1479.2,798.9 1480.7,801.6 1482.2,804.2 1483.7,806.8 1485.2,809.4 1486.7,812.0 1488.3,814.6 1489.8,817.2 1491.4,819.8 1493.0,822.3 1494.6,824.9 1496.1,827.5 1497.7,830.1 1499.3,832.6 1501.0,835.2 1502.6,837.7 1504.2,840.3 1505.9,842.8 1507.5,845.3 1509.2,847.8 1510.8,850.3 1512.5,852.9 1514.2,855.4 1515.9,857.9 1517.6,860.3 1519.3,862.8 1521.1,865.3 1522.8,867.8 1524.5,870.2 1526.3,872.7 1528.1,875.1 1529.8,877.6 1531.6,880.0 1533.4,882.4 1535.2,884.8 1537.0,887.2 1538.8,889.6 1540.7,892.0 1542.5,894.4 1544.3,896.8 1546.2,899.2 1548.1,901.5 1549.9,903.9 1551.8,906.2 1553.7,908.6 1555.6,910.9 1557.5,913.2 1559.4,915.5 1561.4,917.8 1563.3,920.1 1565.3,922.4 1567.2,924.7 1569.2,926.9 1571.2,929.2 1573.2,931.4 1575.2,933.7 1577.2,935.9 1579.2,938.1 1581.2,940.3 1583.3,942.5 1585.3,944.7 1587.4,946.9 1589.4,949.0 1591.5,951.2 1593.6,953.4 1595.7,955.5 1597.8,957.6 1599.9,959.7 1602.1,961.8 1604.2,963.9 1606.3,966.0 1608.5,968.1 1610.7,970.2 1612.8,972.2 1615.0,974.3 1617.2,976.3 1619.4,978.3 1621.6,980.3 1623.9,982.3 1626.1,984.3 1628.4,986.3 1630.6,988.2 1632.9,990.2 1635.2,992.1 1637.4,994.0 1639.7,996.0 1642.0,997.9 1644.3,999.8 1646.7,1001.6 1649.0,1003.5 1651.3,1005.4 1653.7,1007.2 1656.1,1009.1 1658.4,1010.9 1660.8,1012.7 1663.2,1014.5 1665.6,1016.3 1668.0,1018.1 1670.4,1019.9 1672.8,1021.7 1675.2,1023.4 1677.7,1025.2 1680.1,1026.9 1682.6,1028.6 1685.0,1030.3 1687.5,1032.0 1690.0,1033.7 1692.4,1035.4 1694.9,1037.1 1697.4,1038.8 1699.9,1040.4 1702.4,1042.1 1705.0,1043.7 1707.5,1045.3 1710.0,1046.9 1712.6,1048.5 1715.1,1050.1 1717.7,1051.7 1720.2,1053.3 1722.8,1054.9 1725.3,1056.4 1727.9,1058.0 1730.5,1059.5 1733.1,1061.0 1735.7,1062.6 1738.3,1064.1 1740.9,1065.6 1743.5,1067.1 1746.1,1068.6 1748.8,1070.0 1751.4,1071.5 1754.0,1073.0 1756.7,1074.4 1759.3,1075.9 1762.0,1077.3 1764.6,1078.7 1767.3,1080.1 1770.0,1081.5 1772.6,1082.9 1775.3,1084.3 1778.0,1085.7 1780.7,1087.1 1783.4,1088.5 1786.1,1089.8 1788.8,1091.2 1791.5,1092.5 1794.2,1093.9 1796.9,1095.2 1799.6,1096.5 1802.3,1097.8 1805.0,1099.1 1807.8,1100.4 1810.5,1101.7 1813.2,1103.0 1816.0,1104.2 1818.7,1105.5 1821.4,1106.8 1824.2,1108.0 1826.9,1109.3 1829.7,1110.5 1832.5,1111.7 1835.2,1112.9 1838.0,1114.2 1840.7,1115.4 1843.5,1116.6 1846.3,1117.8 1849.0,1118.9 1851.8,1120.1 1854.6,1121.3 1857.4,1122.5 1860.1,1123.6 1862.9,1124.8 1865.7,1125.9 1868.5,1127.1 1871.3,1128.2 1874.1,1129.3 1876.9,1130.4 1879.6,1131.6 1882.4,1132.7 1885.2,1133.8 1888.0,1134.9 1890.8,1135.9 1893.6,1137.0 1896.4,1138.1 1899.2,1139.2 1902.0,1140.2 1904.8,1141.3 1907.6,1142.4 1910.4,1143.4 1913.2,1144.4 1916.0,1145.5"/>
<path stroke="#FC4E03" d="M180.0,1212.0L195.0,1212.0L196.7,1214.3 198.3,1216.7 199.9,1219.1 201.5,1221.5 203.1,1223.9 204.7,1226.4 206.2,1228.9 207.8,1231.4 209.3,1234.0 210.8,1236.5 212.4,1239.1 213.9,1241.7 215.4,1244.3 216.9,1246.9 218.4,1249.5 219.9,1252.2 221.5,1254.8 223.0,1257.5 224.5,1260.1 226.1,1262.8 227.6,1265.4 229.2,1268.1 230.8,1270.7 232.3,1273.4 234.0,1276.0 235.6,1278.7 237.2,1281.3 238.9,1283.9 240.6,1286.5 242.3,1289.0 244.1,1291.6 245.8,1294.1 247.6,1296.6 249.5,1299.1 251.3,1301.6 253.3,1304.0 255.2,1306.5 257.2,1308.8 259.2,1311.2 261.2,1313.5 263.2,1315.8 265.3,1318.0 267.5,1320.3 269.6,1322.4 271.8,1324.6 274.0,1326.7 276.2,1328.7 278.5,1330.7 280.8,1332.7 283.1,1334.6 285.5,1336.5 287.8,1338.3 290.2,1340.1 292.7,1341.8 295.1,1343.4 297.6,1345.0 300.1,1346.6 302.6,1348.1 305.1,1349.5 307.7,1350.9 310.3,1352.2 312.9,1353.5 315.6,1354.6 318.2,1355.7 320.9,1356.8 323.6,1357.8 326.3,1358.7 329.1,1359.5 331.8,1360.3 334.6,1361.0 337.4,1361.6 340.2,1362.1 343.0,1362.5 345.9,1362.9 348.8,1363.2 351.6,1363.5 354.5,1363.6 357.4,1363.7 360.3,1363.8 363.2,1363.7 366.2,1363.6 369.1,1363.4 372.0,1363.2 375.0,1362.9 377.9,1362.5 380.9,1362.1 383.8,1361.6 386.8,1361.1 389.7,1360.5 392.6,1359.8 395.6,1359.1 398.5,1358.3 401.4,1357.5 404.4,1356.6 407.3,1355.7 410.2,1354.7 413.1,1353.7 415.9,1352.6 418.8,1351.4 421.6,1350.3 424.5,1349.0 427.3,1347.8 430.1,1346.5 432.9,1345.1 435.6,1343.7 438.4,1342.3 441.1,1340.8 443.8,1339.3 446.5,1337.8 449.2,1336.2 451.8,1334.6 454.4,1332.9 457.0,1331.3 459.6,1329.6 462.2,1327.9 464.8,1326.2 467.3,1324.4 469.9,1322.7 472.4,1320.9 474.9,1319.1 477.4,1317.3 479.9,1315.5 482.4,1313.7 484.8,1311.9 487.3,1310.1 489.7,1308.3 492.1,1306.5 494.5,1304.6 497.0,1302.8 499.4,1301.1 501.7,1299.3 504.1,1297.5 506.5,1295.7 508.9,1294.0 511.2,1292.3 513.6,1290.6 516.0,1288.9 518.3,1287.2 520.7,1285.6 523.0,1284.0L523.7,1281.1 524.5,1278.3 525.2,1275.4 526.0,1272.5 526.7,1269.6 527.4,1266.8 528.2,1263.9 528.9,1261.0 529.7,1258.1 530.4,1255.2 531.2,1252.4 531.9,1249.5 532.7,1246.6 533.5,1243.7 534.2,1240.8 535.0,1237.9 535.8,1235.0 536.5,1232.1 537.3,1229.2 538.1,1226.3 538.8,1223.4 539.6,1220.5 540.4,1217.6 541.2,1214.7 542.0,1211.8 542.8,1208.9 543.6,1206.0 544.4,1203.1 545.2,1200.2 546.0,1197.2 546.8,1194.3 547.6,1191.4 548.4,1188.5 549.2,1185.6 550.0,1182.7 550.9,1179.8 551.7,1176.9 552.5,1174.0 553.4,1171.1 554.2,1168.2 555.1,1165.2 555.9,1162.3 556.8,1159.4 557.6,1156.5 558.5,1153.6 559.4,1150.7 560.2,1147.8 561.1,1144.9 562.0,1142.0 562.9,1139.1 563.8,1136.2 564.7,1133.3 565.6,1130.4 566.5,1127.5 567.4,1124.6 568.4,1121.7 569.3,1118.9 570.2,1116.0 571.2,1113.1 572.1,1110.2 573.1,1107.3 574.0,1104.4 575.0,1101.6 576.0,1098.7 577.0,1095.8 577.9,1093.0 578.9,1090.1 579.9,1087.2 580.9,1084.4 582.0,1081.5 583.0,1078.6 584.0,1075.8 585.0,1072.9 586.1,1070.1 587.1,1067.3 588.2,1064.4 589.3,1061.6 590.3,1058.8 591.4,1055.9 592.5,1053.1 593.6,1050.3 594.7,1047.5 595.8,1044.7 596.9,1041.8 598.0,1039.0 599.2,1036.2 600.3,1033.4 601.5,1030.7 602.6,1027.9 603.8,1025.1 605.0,1022.3 606.2,1019.5 607.4,1016.8 608.6,1014.0 609.8,1011.2 611.0,1008.5 612.2,1005.7 613.5,1003.0 614.7,1000.3 616.0,997.5 617.3,994.8 618.5,992.1 619.8,989.4 621.1,986.6 622.4,983.9 623.7,981.2 625.1,978.5 626.4,975.9 627.8,973.2 629.1,970.5 630.5,967.8 631.9,965.2 633.3,962.5 634.7,959.9 636.1,957.2 637.5,954.6 638.9,952.0 640.4,949.3 641.8,946.7 643.3,944.1 644.8,941.5 646.3,938.9 647.8,936.3 649.3,933.7 650.8,931.2 652.3,928.6 653.9,926.1 655.5,923.5 657.0,921.0 658.6,918.4 660.2,915.9 661.8,913.4 663.4,910.9 665.1,908.4 666.7,905.9 668.4,903.4 670.0,900.9 671.7,898.4 673.4,896.0 675.1,893.5 676.8,891.1 678.6,888.7 680.3,886.2 682.1,883.8 683.9,881.4 685.6,879.0 687.4,876.6 689.3,874.2 691.1,871.9 692.9,869.5 694.8,867.2 696.7,864.8 698.5,862.5 700.4,860.2 702.3,857.8 704.3,855.5 706.2,853.3 708.2,851.0 710.1,848.7 712.1,846.4 714.1,844.2 716.1,841.9 718.2,839.7 720.2,837.5 722.3,835.3 724.3,833.1 726.4,830.9 728.5,828.7 730.6,826.6 732.8,824.4 734.9,822.3 737.1,820.1 739.3,818.0 741.5,815.9 743.7,813.8 745.9,811.7 748.2,809.6 750.4,807.6 752.7,805.5 755.0,803.5L755.7,800.7 756.4,797.8 757.2,795.0 757.9,792.2 758.7,789.3 759.5,786.5 760.2,783.7 761.0,780.8 761.9,778.0 762.7,775.1 763.5,772.3 764.4,769.4 765.2,766.5 766.1,763.7 767.0,760.8 767.9,758.0 768.9,755.1 769.8,752.2 770.8,749.4 771.7,746.5 772.7,743.7 773.7,740.8 774.7,738.0 775.8,735.1 776.8,732.3 777.9,729.4 778.9,726.6 780.0,723.7 781.2,720.9 782.3,718.1 783.4,715.3 784.6,712.4 785.8,709.6 787.0,706.8 788.2,704.0 789.4,701.2 790.6,698.4 791.9,695.6 793.2,692.8 794.5,690.1 795.8,687.3 797.1,684.6 798.5,681.8 799.9,679.1 801.3,676.3 802.7,673.6 804.1,670.9 805.6,668.2 807.0,665.5 808.5,662.8 810.0,660.1 811.5,657.5 813.1,654.8 814.6,652.2 816.2,649.6 817.8,647.0 819.5,644.4 821.1,641.8 822.8,639.2 824.5,636.6 826.2,634.1 827.9,631.6 829.7,629.0 831.4,626.5 833.2,624.1 835.0,621.6 836.9,619.1 838.7,616.7 840.6,614.3 842.5,611.9 844.5,609.5 846.4,607.2 848.4,604.9 850.4,602.6 852.4,600.3 854.4,598.1 856.5,595.9 858.6,593.7 860.7,591.6 862.8,589.5 865.0,587.4 867.2,585.4 869.4,583.4 871.6,581.4 873.9,579.5 876.2,577.7 878.5,575.8 880.8,574.1 883.2,572.3 885.5,570.7 887.9,569.0 890.4,567.4 892.8,565.9 895.3,564.5 897.8,563.0 900.4,561.7 902.9,560.4 905.5,559.1 908.1,557.9 910.8,556.8 913.4,555.8 916.1,554.8 918.8,553.8 921.6,553.0 924.4,552.2 927.2,551.5 930.0,550.8 932.9,550.2 935.7,549.7 938.7,549.3 941.6,548.9 944.6,548.7 947.6,548.5 950.6,548.4 953.7,548.3 956.7,548.4 959.9,548.5 963.0,548.7 966.2,549.0 969.4,549.4 972.6,549.9L973.6,552.7 974.5,555.4 975.5,558.2 976.5,561.0 977.4,563.7 978.4,566.5 979.4,569.3 980.4,572.1 981.4,574.8 982.4,577.6 983.4,580.4 984.4,583.2 985.5,585.9 986.5,588.7 987.5,591.5 988.6,594.3 989.6,597.0 990.7,599.8 991.8,602.6 992.8,605.4 993.9,608.2 995.0,610.9 996.1,613.7 997.2,616.5 998.3,619.3 999.4,622.0 1000.5,624.8 1001.6,627.6 1002.8,630.4 1003.9,633.2 1005.0,635.9 1006.2,638.7 1007.3,641.5 1008.5,644.2 1009.7,647.0 1010.8,649.8 1012.0,652.6 1013.2,655.3 1014.4,658.1 1015.6,660.9 1016.8,663.6 1018.0,666.4 1019.3,669.1 1020.5,671.9 1021.7,674.7 1023.0,677.4 1024.2,680.2 1025.5,682.9 1026.7,685.7 1028.0,688.4 1029.3,691.2 1030.6,693.9 1031.9,696.6 1033.1,699.4 1034.5,702.1 1035.8,704.9 1037.1,707.6 1038.4,710.3 1039.7,713.1 1041.1,715.8 1042.4,718.5 1043.8,721.2 1045.1,723.9 1046.5,726.7 1047.9,729.4 1049.3,732.1 1050.6,734.8 1052.0,737.5 1053.4,740.2 1054.8,742.9 1056.3,745.6 1057.7,748.3 1059.1,750.9 1060.5,753.6 1062.0,756.3 1063.4,759.0 1064.9,761.7 1066.4,764.3 1067.8,767.0 1069.3,769.6 1070.8,772.3 1072.3,775.0 1073.8,777.6 1075.3,780.2 1076.8,782.9 1078.3,785.5 1079.9,788.1 1081.4,790.8 1082.9,793.4 1084.5,796.0 1086.1,798.6 1087.6,801.2 1089.2,803.8 1090.8,806.4 1092.4,809.0 1094.0,811.6 1095.6,814.2 1097.2,816.8 1098.8,819.4 1100.4,821.9 1102.0,824.5 1103.7,827.0 1105.3,829.6 1107.0,832.1 1108.6,834.7 1110.3,837.2 1112.0,839.7 1113.7,842.3 1115.4,844.8 1117.1,847.3 1118.8,849.8 1120.5,852.3 1122.2,854.8 1123.9,857.3 1125.7,859.8 1127.4,862.2 1129.2,864.7 1130.9,867.2 1132.7,869.6 1134.4,872.1 1136.2,874.5 1138.0,877.0 1139.8,879.4 1141.6,881.8 1143.4,884.2 1145.3,886.6 1147.1,889.0 1148.9,891.4 1150.8,893.8 1152.6,896.2 1154.5,898.6 1156.3,900.9 1158.2,903.3 1160.1,905.6 1162.0,908.0 1163.9,910.3 1165.8,912.7 1167.7,915.0 1169.6,917.3 1171.5,919.6 1173.5,921.9 1175.4,924.2 1177.4,926.5 1179.3,928.7 1181.3,931.0 1183.3,933.3 1185.2,935.5 1187.2,937.7 1189.2,940.0 1191.2,942.2 1193.3,944.4 1195.3,946.6 1197.3,948.8 1199.3,951.0 1201.4,953.2 1203.4,955.4 1205.5,957.5 1207.6,959.7 1209.7,961.8 1211.7,963.9 1213.8,966.1 1215.9,968.2 1218.0,970.3 1220.2,972.4 1222.3,974.5 1224.4,976.6 1226.6,978.6 1228.7,980.7 1230.9,982.7 1233.0,984.8 1235.2,986.8 1237.4,988.8 1239.6,990.8 1241.8,992.8 1244.0,994.8 1246.2,996.8 1248.4,998.8 1250.7,1000.7 1252.9,1002.7 1255.2,1004.6 1257.4,1006.5 1259.7,1008.4 1262.0,1010.4 1264.2,1012.2 1266.5,1014.1 1268.8,1016.0 1271.1,1017.9 1273.5,1019.7 1275.8,1021.6 1278.1,1023.4 1280.4,1025.2 1282.8,1027.0 1285.2,1028.8 1287.5,1030.6 1289.9,1032.4 1292.3,1034.1 1294.7,1035.9 1297.1,1037.6 1299.5,1039.3 1301.9,1041.0 1304.3,1042.7 1306.7,1044.4 1309.2,1046.1 1311.6,1047.8 1314.1,1049.4 1316.6,1051.1 1319.0,1052.7 1321.5,1054.3 1324.0,1055.9 1326.5,1057.5 1329.0,1059.1 1331.5,1060.7 1334.0,1062.3 1336.6,1063.8 1339.1,1065.4 1341.6,1066.9 1344.2,1068.4 1346.8,1069.9 1349.3,1071.4 1351.9,1072.9 1354.5,1074.4 1357.1,1075.9 1359.6,1077.3 1362.2,1078.8 1364.9,1080.2 1367.5,1081.6 1370.1,1083.0 1372.7,1084.4 1375.3,1085.8 1378.0,1087.2 1380.6,1088.6 1383.3,1089.9 1385.9,1091.3 1388.6,1092.6 1391.3,1093.9 1394.0,1095.2 1396.6,1096.5 1399.3,1097.8 1402.0,1099.1 1404.7,1100.4 1407.4,1101.6 1410.2,1102.9 1412.9,1104.1 1415.6,1105.4 1418.3,1106.6 1421.1,1107.8 1423.8,1109.0 1426.6,1110.2 1429.3,1111.4 1432.1,1112.5 1434.8,1113.7 1437.6,1114.9 1440.4,1116.0 1443.2,1117.1 1446.0,1118.2 1448.8,1119.4 1451.5,1120.5 1454.3,1121.5 1457.2,1122.6 1460.0,1123.7 1462.8,1124.8 1465.6,1125.8 1468.4,1126.9 1471.2,1127.9 1474.1,1128.9 1476.9,1129.9 1479.8,1130.9 1482.6,1131.9 1485.5,1132.9 1488.3,1133.9 1491.2,1134.9 1494.0,1135.8 1496.9,1136.8 1499.8,1137.7 1502.6,1138.6 1505.5,1139.5 1508.4,1140.5 1511.3,1141.4 1514.2,1142.2 1517.1,1143.1 1520.0,1144.0 1522.9,1144.9 1525.8,1145.7 1528.7,1146.6 1531.6,1147.4 1534.5,1148.2 1537.4,1149.1 1540.3,1149.9 1543.3,1150.7 1546.2,1151.5 1549.1,1152.3 1552.0,1153.0 1555.0,1153.8 1557.9,1154.6 1560.9,1155.3 1563.8,1156.0 1566.7,1156.8 1569.7,1157.5 1572.6,1158.2 1575.6,1158.9 1578.6,1159.6 1581.5,1160.3 1584.5,1161.0 1587.4,1161.7 1590.4,1162.3 1593.4,1163.0 1596.3,1163.6 1599.3,1164.3 1602.3,1164.9 1605.2,1165.5 1608.2,1166.2 1611.2,1166.8 1614.2,1167.4 1617.1,1168.0 1620.1,1168.5 1623.1,1169.1 1626.1,1169.7 1629.1,1170.3 1632.1,1170.8 1635.0,1171.4 1638.0,1171.9 1641.0,1172.4 1644.0,1173.0 1647.0,1173.5 1650.0,1174.0 1653.0,1174.5 1656.0,1175.0 1659.0,1175.5 1662.0,1176.0 1665.0,1176.4 1668.0,1176.9 1671.0,1177.4 1674.0,1177.8 1677.0,1178.3 1680.0,1178.7 1683.0,1179.1 1686.0,1179.6 1689.0,1180.0 1692.0,1180.4 1695.0,1180.8 1698.0,1181.2 1701.0,1181.6 1704.0,1182.0 1707.0,1182.4 1710.0,1182.8 1713.0,1183.2 1716.1,1183.6 1719.1,1183.9 1722.1,1184.3 1725.1,1184.7 1728.1,1185.0 1731.1,1185.4 1734.1,1185.7 1737.1,1186.0 1740.1,1186.4 1743.1,1186.7 1746.1,1187.0 1749.1,1187.3 1752.2,1187.7 1755.2,1188.0 1758.2,1188.3 1761.2,1188.6 1764.2,1188.9 1767.2,1189.2 1770.2,1189.5 1773.2,1189.8 1776.2,1190.0 1779.2,1190.3 1782.2,1190.6 1785.2,1190.9 1788.2,1191.1 1791.2,1191.4 1794.2,1191.6 1797.2,1191.9 1800.2,1192.2 1803.2,1192.4 1806.2,1192.7 1809.2,1192.9 1812.2,1193.1 1815.2,1193.4 1818.2,1193.6 1821.2,1193.8 1824.2,1194.1 1827.1,1194.3 1830.1,1194.5 1833.1,1194.8 1836.1,1195.0 1839.1,1195.2 1842.1,1195.4 1845.0,1195.6 1848.0,1195.8 1851.0,1196.0 1854.0,1196.3 1856.9,1196.5 1859.9,1196.7 1862.9,1196.9 1865.8,1197.1 1868.8,1197.3 1871.8,1197.5 1874.7,1197.7 1877.7,1197.9 1880.7,1198.1 1883.6,1198.2 1886.6,1198.4 1889.5,1198.6 1892.5,1198.8 1895.4,1199.0 1898.4,1199.2 1901.3,1199.4 1904.2,1199.6 1907.2,1199.8 1910.1,1200.0 1913.1,1200.1 1916.0,1200.3"/>
<path stroke="#FFB000" d="M180.5,1212.0L181.3,1214.9 182.1,1217.7 182.9,1220.6 183.6,1223.4 184.4,1226.3 185.2,1229.2 185.9,1232.1 186.7,1234.9 187.4,1237.8 188.1,1240.7 188.8,1243.6 189.6,1246.5 190.3,1249.4 191.0,1252.3 191.7,1255.2 192.4,1258.1 193.1,1261.1 193.7,1264.0 194.4,1266.9 195.1,1269.8 195.8,1272.7 196.4,1275.7 197.1,1278.6 197.7,1281.5 198.4,1284.5 199.0,1287.4 199.7,1290.4 200.3,1293.3 201.0,1296.2 201.6,1299.2 202.2,1302.1 202.9,1305.1 203.5,1308.0 204.1,1311.0 204.8,1314.0 205.4,1316.9 206.0,1319.9 206.7,1322.8 207.3,1325.8 207.9,1328.7 208.5,1331.7 209.2,1334.7 209.8,1337.6 210.4,1340.6 211.0,1343.6 211.7,1346.5 212.3,1349.5 212.9,1352.4 213.6,1355.4 214.2,1358.4 214.9,1361.3 215.5,1364.3 216.1,1367.3 216.8,1370.2 217.4,1373.2 218.1,1376.1 218.8,1379.1 219.4,1382.0 220.1,1385.0 220.8,1388.0 221.4,1390.9 222.1,1393.9 222.8,1396.8 223.5,1399.8 224.2,1402.7 224.9,1405.7 225.6,1408.6 226.3,1411.5 227.0,1414.5 227.8,1417.4 228.5,1420.3 229.2,1423.3 230.0,1426.2 230.7,1429.1 231.5,1432.1 232.3,1435.0 233.1,1437.9 233.8,1440.8 234.6,1443.7 235.4,1446.6 236.3,1449.5 237.1,1452.4 237.9,1455.3 238.8,1458.2 239.6,1461.1 240.5,1464.0 241.4,1466.8 242.3,1469.7 243.2,1472.6 244.1,1475.4 245.0,1478.3 246.0,1481.1 246.9,1484.0 247.9,1486.8 248.9,1489.6 249.9,1492.4 250.9,1495.2 251.9,1498.1 252.9,1500.9 254.0,1503.6 255.1,1506.4 256.1,1509.2 257.2,1512.0 258.4,1514.7 259.5,1517.5 260.7,1520.2 261.8,1523.0 263.0,1525.7 264.2,1528.4 265.4,1531.1 266.7,1533.8 267.9,1536.5 269.2,1539.2 270.5,1541.8 271.8,1544.5 273.2,1547.1 274.5,1549.8 275.9,1552.4 277.3,1555.0 278.7,1557.6 280.2,1560.2 281.7,1562.8 283.1,1565.4 284.6,1567.9 286.2,1570.5 287.7,1573.0 289.3,1575.5 290.9,1578.0 292.5,1580.5 294.2,1583.0 295.9,1585.5 297.6,1587.9 299.3,1590.4 301.0,1592.8 302.8,1595.2 304.6,1597.6 306.5,1600.0 308.3,1602.4 310.2,1604.7 312.1,1607.1 314.0,1609.4 316.0,1611.7 318.0,1614.0L318.6,1611.1 319.2,1608.1 319.8,1605.2 320.4,1602.2 321.0,1599.3 321.6,1596.3 322.2,1593.4 322.8,1590.5 323.4,1587.5 324.1,1584.6 324.7,1581.7 325.3,1578.7 325.9,1575.8 326.6,1572.8 327.2,1569.9 327.8,1567.0 328.5,1564.0 329.1,1561.1 329.8,1558.2 330.4,1555.2 331.0,1552.3 331.7,1549.4 332.3,1546.4 333.0,1543.5 333.6,1540.6 334.3,1537.7 334.9,1534.7 335.6,1531.8 336.3,1528.9 336.9,1525.9 337.6,1523.0 338.2,1520.1 338.9,1517.1 339.6,1514.2 340.2,1511.3 340.9,1508.4 341.6,1505.4 342.2,1502.5 342.9,1499.6 343.6,1496.7 344.2,1493.7 344.9,1490.8 345.6,1487.9 346.3,1484.9 346.9,1482.0 347.6,1479.1 348.3,1476.2 348.9,1473.2 349.6,1470.3 350.3,1467.4 351.0,1464.5 351.6,1461.5 352.3,1458.6 353.0,1455.7 353.7,1452.7 354.3,1449.8 355.0,1446.9 355.7,1444.0 356.3,1441.0 357.0,1438.1 357.7,1435.2 358.3,1432.3 359.0,1429.3 359.7,1426.4 360.3,1423.5 361.0,1420.5 361.7,1417.6 362.3,1414.7 363.0,1411.7 363.7,1408.8 364.3,1405.9 365.0,1403.0 365.6,1400.0 366.3,1397.1 366.9,1394.2 367.6,1391.2 368.2,1388.3 368.9,1385.4 369.5,1382.4 370.2,1379.5 370.8,1376.6 371.4,1373.6 372.1,1370.7 372.7,1367.8 373.3,1364.8 374.0,1361.9 374.6,1358.9 375.2,1356.0 375.9,1353.1 376.5,1350.1 377.1,1347.2 377.7,1344.2 378.3,1341.3 378.9,1338.4 379.5,1335.4 380.1,1332.5 380.7,1329.5 381.3,1326.6 381.9,1323.6 382.5,1320.7 383.1,1317.7 383.7,1314.8 384.3,1311.9 384.9,1308.9 385.4,1306.0 386.0,1303.0L386.4,1300.0 386.8,1297.1 387.2,1294.1 387.6,1291.1 387.9,1288.1 388.3,1285.2 388.7,1282.2 389.1,1279.2 389.5,1276.2 389.9,1273.3 390.2,1270.3 390.6,1267.3 391.0,1264.3 391.4,1261.4 391.8,1258.4 392.1,1255.4 392.5,1252.4 392.9,1249.4 393.3,1246.5 393.6,1243.5 394.0,1240.5 394.4,1237.5 394.7,1234.5 395.1,1231.6 395.5,1228.6 395.9,1225.6 396.2,1222.6 396.6,1219.6 397.0,1216.7 397.3,1213.7 397.7,1210.7 398.1,1207.7 398.4,1204.7 398.8,1201.7 399.2,1198.8 399.5,1195.8 399.9,1192.8 400.3,1189.8 400.6,1186.8 401.0,1183.8 401.4,1180.8 401.7,1177.9 402.1,1174.9 402.4,1171.9 402.8,1168.9 403.2,1165.9 403.5,1162.9 403.9,1159.9 404.3,1157.0 404.6,1154.0 405.0,1151.0 405.4,1148.0 405.7,1145.0 406.1,1142.0 406.5,1139.0 406.8,1136.0 407.2,1133.1 407.5,1130.1 407.9,1127.1 408.3,1124.1 408.6,1121.1 409.0,1118.1 409.4,1115.1 409.7,1112.1 410.1,1109.1 410.5,1106.2 410.8,1103.2 411.2,1100.2 411.6,1097.2 412.0,1094.2 412.3,1091.2 412.7,1088.2 413.1,1085.2 413.4,1082.3 413.8,1079.3 414.2,1076.3 414.6,1073.3 414.9,1070.3 415.3,1067.3 415.7,1064.3 416.1,1061.3 416.4,1058.3 416.8,1055.4 417.2,1052.4 417.6,1049.4 418.0,1046.4 418.3,1043.4 418.7,1040.4 419.1,1037.4 419.5,1034.4 419.9,1031.5 420.3,1028.5 420.7,1025.5 421.0,1022.5 421.4,1019.5 421.8,1016.5 422.2,1013.5 422.6,1010.6 423.0,1007.6 423.4,1004.6 423.8,1001.6 424.2,998.6 424.6,995.6 425.0,992.7 425.4,989.7 425.8,986.7 426.2,983.7 426.6,980.7 427.0,977.7 427.4,974.8 427.9,971.8 428.3,968.8 428.7,965.8 429.1,962.8 429.5,959.8 429.9,956.9 430.4,953.9 430.8,950.9 431.2,947.9 431.6,944.9 432.1,942.0 432.5,939.0 432.9,936.0 433.4,933.0 433.8,930.1 434.2,927.1 434.7,924.1 435.1,921.1 435.6,918.1 436.0,915.2 436.5,912.2 436.9,909.2 437.4,906.2 437.8,903.3 438.3,900.3 438.7,897.3 439.2,894.4 439.6,891.4 440.1,888.4 440.6,885.4 441.0,882.5 441.5,879.5 442.0,876.5 442.5,873.6 442.9,870.6 443.4,867.6 443.9,864.7 444.4,861.7 444.9,858.7 445.4,855.8 445.9,852.8 446.3,849.8 446.8,846.9 447.3,843.9 447.8,840.9 448.3,838.0 448.9,835.0 449.4,832.1 449.9,829.1 450.4,826.1 450.9,823.2 451.4,820.2 452.0,817.3 452.5,814.3 453.0,811.4 453.5,808.4 454.1,805.4 454.6,802.5 455.2,799.5 455.7,796.6 456.3,793.6 456.8,790.7 457.4,787.7 457.9,784.8 458.5,781.8 459.0,778.9 459.6,775.9 460.2,773.0 460.7,770.1 461.3,767.1 461.9,764.2 462.5,761.2 463.1,758.3 463.6,755.3 464.2,752.4 464.8,749.5 465.4,746.5 466.0,743.6 466.6,740.6 467.2,737.7 467.8,734.8 468.5,731.8 469.1,728.9 469.7,726.0 470.3,723.0 471.0,720.1 471.6,717.2 472.2,714.2 472.9,711.3 473.5,708.4 474.2,705.5 474.8,702.5 475.5,699.6 476.1,696.7 476.8,693.8 477.4,690.8 478.1,687.9 478.8,685.0 479.5,682.1 480.1,679.2 480.8,676.2 481.5,673.3 482.2,670.4 482.9,667.5 483.6,664.6 484.3,661.7 485.0,658.8 485.7,655.9 486.5,653.0 487.2,650.0 487.9,647.1 488.6,644.2 489.4,641.3 490.1,638.4 490.9,635.5 491.6,632.6 492.3,629.7 493.1,626.8 493.9,623.9 494.6,621.0 495.4,618.1 496.2,615.2 496.9,612.4 497.7,609.5 498.5,606.6 499.3,603.7 500.1,600.8 500.9,597.9 501.7,595.0 502.5,592.1 503.3,589.3 504.2,586.4 505.0,583.5L505.8,586.4 506.5,589.4 507.3,592.3 508.1,595.2 509.0,598.1 509.8,601.0 510.7,603.9 511.5,606.8 512.4,609.6 513.4,612.5 514.3,615.4 515.2,618.2 516.2,621.0 517.1,623.9 518.1,626.7 519.1,629.5 520.2,632.3 521.2,635.1 522.2,637.9 523.3,640.7 524.4,643.5 525.4,646.2 526.5,649.0 527.7,651.8 528.8,654.5 529.9,657.3 531.1,660.0 532.2,662.7 533.4,665.5 534.6,668.2 535.8,670.9 537.0,673.6 538.2,676.3 539.5,679.0 540.7,681.7 541.9,684.4 543.2,687.1 544.5,689.8 545.8,692.5 547.1,695.1 548.4,697.8 549.7,700.5 551.0,703.1 552.3,705.8 553.7,708.5 555.0,711.1 556.4,713.8 557.8,716.4 559.1,719.1 560.5,721.7 561.9,724.3 563.3,727.0 564.7,729.6 566.1,732.3 567.5,734.9 569.0,737.5 570.4,740.1 571.8,742.8 573.3,745.4 574.7,748.0 576.2,750.6 577.7,753.3 579.1,755.9 580.6,758.5 582.1,761.1 583.6,763.7 585.1,766.4 586.5,769.0 588.0,771.6 589.5,774.2 591.0,776.8 592.6,779.4 594.1,782.1 595.6,784.7 597.1,787.3 598.6,789.9 600.2,792.5 601.7,795.1 603.3,797.7 604.8,800.3 606.4,802.9 607.9,805.5 609.5,808.1 611.1,810.7 612.6,813.3 614.2,815.9 615.8,818.5 617.4,821.1 619.0,823.7 620.6,826.2 622.2,828.8 623.9,831.4 625.5,833.9 627.1,836.5 628.8,839.0 630.4,841.6 632.1,844.1 633.7,846.7 635.4,849.2 637.1,851.8 638.8,854.3 640.5,856.8 642.2,859.3 643.9,861.8 645.6,864.3 647.3,866.8 649.0,869.3 650.8,871.8 652.5,874.3 654.3,876.7 656.0,879.2 657.8,881.6 659.6,884.1 661.4,886.5 663.2,889.0 665.0,891.4 666.8,893.8 668.6,896.2 670.5,898.6 672.3,901.0 674.2,903.4 676.0,905.8 677.9,908.1 679.8,910.5 681.7,912.8 683.6,915.2 685.5,917.5 687.4,919.8 689.3,922.1 691.3,924.4 693.2,926.7 695.2,929.0 697.2,931.2 699.2,933.5 701.1,935.7 703.1,938.0 705.2,940.2 707.2,942.4 709.2,944.6 711.3,946.8 713.3,949.0 715.4,951.2 717.5,953.3 719.5,955.5 721.6,957.6 723.7,959.7 725.8,961.9 728.0,964.0 730.1,966.1 732.2,968.2 734.4,970.2 736.5,972.3 738.7,974.4 740.9,976.4 743.1,978.4 745.3,980.5 747.5,982.5 749.7,984.5 751.9,986.5 754.1,988.5 756.4,990.4 758.6,992.4 760.9,994.4 763.2,996.3 765.4,998.2 767.7,1000.2 770.0,1002.1 772.3,1004.0 774.6,1005.9 776.9,1007.8 779.3,1009.6 781.6,1011.5 783.9,1013.3 786.3,1015.2 788.6,1017.0 791.0,1018.8 793.4,1020.6 795.8,1022.4 798.1,1024.2 800.5,1026.0 803.0,1027.8 805.4,1029.5 807.8,1031.3 810.2,1033.0 812.6,1034.7 815.1,1036.5 817.5,1038.2 820.0,1039.9 822.5,1041.6 824.9,1043.2 827.4,1044.9 829.9,1046.6 832.4,1048.2 834.9,1049.8 837.4,1051.5 839.9,1053.1 842.4,1054.7 844.9,1056.3 847.5,1057.9 850.0,1059.5 852.6,1061.0 855.1,1062.6 857.7,1064.1 860.2,1065.7 862.8,1067.2 865.4,1068.7 868.0,1070.2 870.6,1071.7 873.2,1073.2 875.8,1074.7 878.4,1076.1 881.0,1077.6 883.6,1079.0 886.2,1080.5 888.9,1081.9 891.5,1083.3 894.2,1084.7 896.8,1086.1 899.5,1087.5 902.1,1088.9 904.8,1090.2 907.5,1091.6 910.1,1092.9 912.8,1094.3 915.5,1095.6 918.2,1096.9 920.9,1098.2 923.6,1099.5 926.3,1100.8 929.0,1102.1 931.7,1103.3 934.5,1104.6 937.2,1105.9 939.9,1107.1 942.7,1108.3 945.4,1109.5 948.1,1110.7 950.9,1111.9 953.7,1113.1 956.4,1114.3 959.2,1115.5 961.9,1116.6 964.7,1117.8 967.5,1118.9 970.3,1120.0 973.1,1121.2 975.8,1122.3 978.6,1123.4 981.4,1124.5 984.2,1125.5 987.0,1126.6 989.8,1127.7 992.7,1128.7 995.5,1129.7 998.3,1130.8 1001.1,1131.8 1003.9,1132.8 1006.8,1133.8 1009.6,1134.8 1012.4,1135.8 1015.3,1136.8 1018.1,1137.7 1021.0,1138.7 1023.8,1139.6 1026.7,1140.5 1029.5,1141.5 1032.4,1142.4 1035.2,1143.3 1038.1,1144.2 1041.0,1145.1 1043.8,1145.9 1046.7,1146.8 1049.6,1147.7 1052.4,1148.5 1055.3,1149.3 1058.2,1150.2 1061.1,1151.0 1064.0,1151.8 1066.9,1152.6 1069.7,1153.4 1072.6,1154.1 1075.5,1154.9 1078.4,1155.7 1081.3,1156.4 1084.2,1157.2 1087.1,1157.9 1090.0,1158.6 1092.9,1159.3 1095.9,1160.0 1098.8,1160.7 1101.7,1161.4 1104.6,1162.1 1107.5,1162.8 1110.4,1163.5 1113.4,1164.1 1116.3,1164.8 1119.2,1165.4 1122.1,1166.0 1125.1,1166.6 1128.0,1167.3 1130.9,1167.9 1133.9,1168.5 1136.8,1169.1 1139.7,1169.6 1142.7,1170.2 1145.6,1170.8 1148.6,1171.3 1151.5,1171.9 1154.5,1172.4 1157.4,1173.0 1160.4,1173.5 1163.3,1174.0 1166.3,1174.6 1169.2,1175.1 1172.2,1175.6 1175.1,1176.1 1178.1,1176.5 1181.1,1177.0 1184.0,1177.5 1187.0,1178.0 1190.0,1178.4 1192.9,1178.9 1195.9,1179.3 1198.9,1179.8 1201.8,1180.2 1204.8,1180.6 1207.8,1181.1 1210.8,1181.5 1213.7,1181.9 1216.7,1182.3 1219.7,1182.7 1222.7,1183.1 1225.7,1183.5 1228.6,1183.8 1231.6,1184.2 1234.6,1184.6 1237.6,1184.9 1240.6,1185.3 1243.6,1185.7 1246.6,1186.0 1249.6,1186.3 1252.6,1186.7 1255.5,1187.0 1258.5,1187.3 1261.5,1187.7 1264.5,1188.0 1267.5,1188.3 1270.5,1188.6 1273.5,1188.9 1276.5,1189.2 1279.5,1189.5 1282.5,1189.8 1285.5,1190.0 1288.5,1190.3 1291.5,1190.6 1294.5,1190.9 1297.5,1191.1 1300.5,1191.4 1303.6,1191.6 1306.6,1191.9 1309.6,1192.1 1312.6,1192.4 1315.6,1192.6 1318.6,1192.9 1321.6,1193.1 1324.6,1193.3 1327.6,1193.6 1330.6,1193.8 1333.6,1194.0 1336.7,1194.2 1339.7,1194.4 1342.7,1194.6 1345.7,1194.8 1348.7,1195.0 1351.7,1195.2 1354.7,1195.4 1357.7,1195.6 1360.8,1195.8 1363.8,1196.0 1366.8,1196.2 1369.8,1196.4 1372.8,1196.5 1375.8,1196.7 1378.9,1196.9 1381.9,1197.1 1384.9,1197.2 1387.9,1197.4 1390.9,1197.6 1393.9,1197.7 1396.9,1197.9 1400.0,1198.0 1403.0,1198.2 1406.0,1198.4 1409.0,1198.5 1412.0,1198.7 1415.0,1198.8 1418.1,1198.9 1421.1,1199.1 1424.1,1199.2 1427.1,1199.4 1430.1,1199.5 1433.1,1199.7 1436.1,1199.8 1439.1,1199.9 1442.2,1200.1 1445.2,1200.2 1448.2,1200.3 1451.2,1200.5 1454.2,1200.6 1457.2,1200.7 1460.2,1200.9 1463.2,1201.0 1466.2,1201.1 1469.3,1201.2 1472.3,1201.4 1475.3,1201.5 1478.3,1201.6 1481.3,1201.8 1484.3,1201.9 1487.3,1202.0 1490.3,1202.1 1493.3,1202.3 1496.3,1202.4 1499.3,1202.5 1502.3,1202.6 1505.3,1202.8 1508.3,1202.9 1511.3,1203.0 1514.3,1203.1 1517.3,1203.3 1520.3,1203.4 1523.3,1203.5 1526.3,1203.6 1529.3,1203.8 1532.3,1203.9 1535.3,1204.0 1538.3,1204.1 1541.3,1204.3 1544.3,1204.4 1547.3,1204.5 1550.3,1204.6 1553.3,1204.7 1556.3,1204.9 1559.3,1205.0 1562.2,1205.1 1565.2,1205.2 1568.2,1205.3 1571.2,1205.5 1574.2,1205.6 1577.2,1205.7 1580.2,1205.8 1583.2,1205.9 1586.2,1206.0 1589.2,1206.2 1592.1,1206.3 1595.1,1206.4 1598.1,1206.5 1601.1,1206.6 1604.1,1206.7 1607.1,1206.8 1610.1,1206.9 1613.1,1207.1 1616.1,1207.2 1619.0,1207.3 1622.0,1207.4 1625.0,1207.5 1628.0,1207.6 1631.0,1207.7 1634.0,1207.8 1637.0,1207.9 1639.9,1208.0 1642.9,1208.1 1645.9,1208.2 1648.9,1208.3 1651.9,1208.4 1654.9,1208.5 1657.9,1208.6 1660.9,1208.7 1663.8,1208.8 1666.8,1208.9 1669.8,1209.0 1672.8,1209.1 1675.8,1209.2 1678.8,1209.3 1681.8,1209.4 1684.7,1209.5 1687.7,1209.5 1690.7,1209.6 1693.7,1209.7 1696.7,1209.8 1699.7,1209.9 1702.7,1210.0 1705.7,1210.1 1708.6,1210.1 1711.6,1210.2 1714.6,1210.3 1717.6,1210.4 1720.6,1210.5 1723.6,1210.5 1726.6,1210.6 1729.6,1210.7 1732.6,1210.7 1735.5,1210.8 1738.5,1210.9 1741.5,1211.0 1744.5,1211.0 1747.5,1211.1 1750.5,1211.2 1753.5,1211.2 1756.5,1211.3 1759.5,1211.3 1762.5,1211.4 1765.5,1211.5 1768.5,1211.5 1771.5,1211.6 1774.5,1211.6 1777.5,1211.7 1780.5,1211.7 1783.5,1211.8 1786.4,1211.8 1789.4,1211.9 1792.4,1211.9 1795.4,1212.0 1798.4,1212.0 1801.4,1212.0 1804.4,1212.1 1807.4,1212.1 1810.5,1212.2 1813.5,1212.2 1816.5,1212.2 1819.5,1212.3 1822.5,1212.3 1825.5,1212.3 1828.5,1212.3 1831.5,1212.4 1834.5,1212.4 1837.5,1212.4 1840.5,1212.4 1843.5,1212.4 1846.5,1212.5 1849.5,1212.5 1852.6,1212.5 1855.6,1212.5 1858.6,1212.5 1861.6,1212.5 1864.6,1212.5 1867.6,1212.5 1870.6,1212.5 1873.7,1212.5 1876.7,1212.5 1879.7,1212.5 1882.7,1212.5 1885.7,1212.5 1888.8,1212.5 1891.8,1212.5 1894.8,1212.5 1897.8,1212.4 1900.9,1212.4 1903.9,1212.4 1906.9,1212.4 1909.9,1212.4 1913.0,1212.3 1916.0,1212.3"/>
</g>
<g stroke="#5a5a5a" stroke-width="3.5"><line x1="179" y1="1507.2" x2="197" y2="1507.2"/><line x1="1989.5" y1="1507.2" x2="2007.5" y2="1507.2"/><line x1="179" y1="1360.7" x2="197" y2="1360.7"/><line x1="1989.5" y1="1360.7" x2="2007.5" y2="1360.7"/><line x1="179" y1="1214.2" x2="197" y2="1214.2"/><line x1="1989.5" y1="1214.2" x2="2007.5" y2="1214.2"/><line x1="179" y1="1067.7" x2="197" y2="1067.7"/><line x1="1989.5" y1="1067.7" x2="2007.5" y2="1067.7"/><line x1="179" y1="921.2" x2="197" y2="921.2"/><line x1="1989.5" y1="921.2" x2="2007.5" y2="921.2"/><line x1="179" y1="774.7" x2="197" y2="774.7"/><line x1="1989.5" y1="774.7" x2="2007.5" y2="774.7"/><line x1="179" y1="628.2" x2="197" y2="628.2"/><line x1="1989.5" y1="628.2" x2="2007.5" y2="628.2"/><line x1="179" y1="481.7" x2="197" y2="481.7"/><line x1="1989.5" y1="481.7" x2="2007.5" y2="481.7"/><line x1="179" y1="335.2" x2="197" y2="335.2"/><line x1="1989.5" y1="335.2" x2="2007.5" y2="335.2"/><line x1="179" y1="188.7" x2="197" y2="188.7"/><line x1="1989.5" y1="188.7" x2="2007.5" y2="188.7"/><line x1="788.5" y1="1653.7" x2="788.5" y2="1635.7"/><line x1="788.5" y1="42" x2="788.5" y2="60"/><line x1="1398.0" y1="1653.7" x2="1398.0" y2="1635.7"/><line x1="1398.0" y1="42" x2="1398.0" y2="60"/></g>
<rect x="179" y="42" width="1828.5" height="1611.7" fill="none" stroke="#858585" stroke-width="4"/>
<text class="tk" x="157" y="1671.5" font-size="63" text-anchor="end">-3</text>
<text class="tk" x="157" y="1525.0" font-size="63" text-anchor="end">-2</text>
<text class="tk" x="157" y="1378.5" font-size="63" text-anchor="end">-1</text>
<text class="tk" x="157" y="1232.0" font-size="63" text-anchor="end">0</text>
<text class="tk" x="157" y="1085.5" font-size="63" text-anchor="end">1</text>
<text class="tk" x="157" y="939.0" font-size="63" text-anchor="end">2</text>
<text class="tk" x="157" y="792.5" font-size="63" text-anchor="end">3</text>
<text class="tk" x="157" y="646.0" font-size="63" text-anchor="end">4</text>
<text class="tk" x="157" y="499.5" font-size="63" text-anchor="end">5</text>
<text class="tk" x="157" y="353.0" font-size="63" text-anchor="end">6</text>
<text class="tk" x="157" y="206.5" font-size="63" text-anchor="end">7</text>
<text class="tk" x="157" y="60.0" font-size="63" text-anchor="end">8</text>
<text class="tk" transform="translate(179.7,1731.5) scale(0.95,1)" font-size="63" text-anchor="middle">0</text>
<text class="tk" transform="translate(786.4,1731.5) scale(0.95,1)" font-size="63" text-anchor="middle">500</text>
<text class="tk" transform="translate(1402.0,1731.5) scale(0.95,1)" font-size="63" text-anchor="middle">1000</text>
<text class="tk" transform="translate(2010.6,1731.5) scale(0.95,1)" font-size="63" text-anchor="middle">1500</text>
<text transform="translate(1092.5,1807.3)" font-size="70.5" text-anchor="middle">Time(epoch)</text>
<text transform="translate(74.5,840.5) rotate(-90) scale(0.99,1)" font-size="70" text-anchor="middle">Differencial Error(m)</text>
<rect x="1527.8" y="62.5" width="487.4" height="753.5" fill="#fff" stroke="#858585" stroke-width="4"/>
<circle cx="1656.3" cy="110.0" r="6.3" fill="#0072BD"/>
<text transform="translate(1766,129.0) scale(0.978,1)" font-size="61">218m/s</text>
<circle cx="1656.3" cy="183.2" r="6.3" fill="#FC4E03"/>
<text transform="translate(1766,202.2) scale(0.978,1)" font-size="61">228 m/s</text>
<circle cx="1656.3" cy="256.4" r="6.3" fill="#FFB000"/>
<text transform="translate(1766,275.4) scale(0.978,1)" font-size="61">238 m/s</text>
<circle cx="1656.3" cy="329.6" r="6.3" fill="#8A1D97"/>
<text transform="translate(1766,348.6) scale(0.978,1)" font-size="61">248 m/s</text>
<circle cx="1656.3" cy="402.8" r="6.3" fill="#4DAF12"/>
<text transform="translate(1766,421.8) scale(0.978,1)" font-size="61">258 m/s</text>
<circle cx="1656.3" cy="476.0" r="6.3" fill="#00BEF0"/>
<text transform="translate(1766,495.0) scale(0.978,1)" font-size="61">288 m/s</text>
<circle cx="1656.3" cy="549.2" r="6.3" fill="#C2001F"/>
<text transform="translate(1766,568.2) scale(0.978,1)" font-size="61">320 m/s</text>
<circle cx="1656.3" cy="622.4" r="6.3" fill="#0072BD"/>
<text transform="translate(1766,641.4) scale(0.978,1)" font-size="61">370 m/s</text>
<circle cx="1656.3" cy="695.6" r="6.3" fill="#FC4E03"/>
<text transform="translate(1766,714.6) scale(0.978,1)" font-size="61">500 m/s</text>
<circle cx="1656.3" cy="768.8" r="6.3" fill="#FFB000"/>
<text transform="translate(1766,787.8) scale(0.978,1)" font-size="61">1000 m/s</text>
</svg>
</body></html>
